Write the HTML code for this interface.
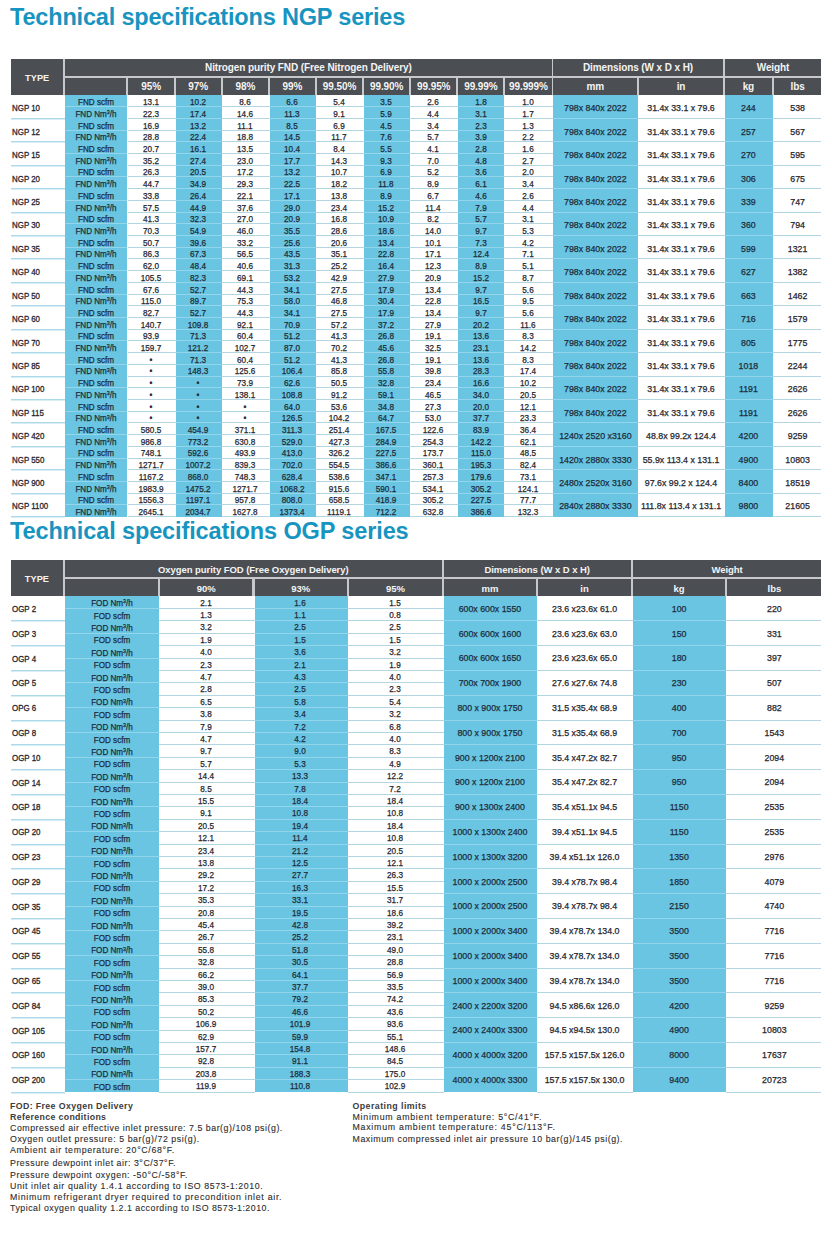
<!DOCTYPE html>
<html><head><meta charset="utf-8"><title>Technical specifications</title><style>
html,body{margin:0;padding:0;background:#fff;}
body{width:832px;height:1241px;position:relative;overflow:hidden;font-family:"Liberation Sans",sans-serif;}
.b{position:absolute;}
.t,.h,.d,.ty,.title,.note{position:absolute;white-space:nowrap;}
.h{color:#f4f4f4;font-weight:bold;font-size:10px;line-height:10px;letter-spacing:-0.1px;}
.d{color:#26262e;font-size:8.8px;line-height:10px;-webkit-text-stroke:0.25px #26262e;}
.ty{color:#26262e;font-size:8.8px;line-height:10px;transform-origin:0 50%;-webkit-text-stroke:0.3px #26262e;}
.d sup{font-size:5.8px;vertical-align:0;position:relative;top:-2.8px;}
.title{color:#1794bf;font-weight:bold;font-size:23.5px;line-height:0;}
.note{color:#2b2b2b;font-size:8.8px;line-height:0;-webkit-text-stroke:0.1px #2b2b2b;}
.nb{font-weight:bold;-webkit-text-stroke:0;color:#3c3c3c;}
.bl{color:#1d2d3c;-webkit-text-stroke-color:#1d2d3c;}
</style></head>
<body>
<div class="title" style="left:10px;top:16.8px;letter-spacing:-0.18px;">Technical specifications NGP series</div>
<div class="b" style="left:11px;top:59px;width:810px;height:36px;background:#c6c8cb;"></div>
<div class="b" style="left:11px;top:59px;width:52px;height:36px;background:#4b4e53;"></div>
<div class="h" style="left:37.15px;top:77.50px;transform:translate(-50%,-50%);font-size:9.2px;letter-spacing:0.1px">TYPE</div>
<div class="b" style="left:65px;top:59px;width:487px;height:17px;background:#4b4e53;"></div>
<div class="h" style="left:308.40px;top:68.00px;transform:translate(-50%,-50%);">Nitrogen purity FND (Free Nitrogen Delivery)</div>
<div class="b" style="left:553px;top:59px;width:170px;height:17px;background:#4b4e53;"></div>
<div class="h" style="left:638.00px;top:68.00px;transform:translate(-50%,-50%);">Dimensions (W x D x H)</div>
<div class="b" style="left:725px;top:59px;width:96px;height:17px;background:#4b4e53;"></div>
<div class="h" style="left:773.00px;top:68.00px;transform:translate(-50%,-50%);">Weight</div>
<div class="b" style="left:65px;top:78px;width:61px;height:17px;background:#4b4e53;"></div>
<div class="b" style="left:128px;top:78px;width:46px;height:17px;background:#4b4e53;"></div>
<div class="h" style="left:151.10px;top:87.00px;transform:translate(-50%,-50%);">95%</div>
<div class="b" style="left:176px;top:78px;width:45px;height:17px;background:#4b4e53;"></div>
<div class="h" style="left:198.21px;top:87.00px;transform:translate(-50%,-50%);">97%</div>
<div class="b" style="left:223px;top:78px;width:45px;height:17px;background:#4b4e53;"></div>
<div class="h" style="left:245.32px;top:87.00px;transform:translate(-50%,-50%);">98%</div>
<div class="b" style="left:270px;top:78px;width:45px;height:17px;background:#4b4e53;"></div>
<div class="h" style="left:292.43px;top:87.00px;transform:translate(-50%,-50%);">99%</div>
<div class="b" style="left:317px;top:78px;width:45px;height:17px;background:#4b4e53;"></div>
<div class="h" style="left:339.54px;top:87.00px;transform:translate(-50%,-50%);">99.50%</div>
<div class="b" style="left:364px;top:78px;width:45px;height:17px;background:#4b4e53;"></div>
<div class="h" style="left:386.65px;top:87.00px;transform:translate(-50%,-50%);">99.90%</div>
<div class="b" style="left:411px;top:78px;width:45px;height:17px;background:#4b4e53;"></div>
<div class="h" style="left:433.76px;top:87.00px;transform:translate(-50%,-50%);">99.95%</div>
<div class="b" style="left:458px;top:78px;width:45px;height:17px;background:#4b4e53;"></div>
<div class="h" style="left:480.87px;top:87.00px;transform:translate(-50%,-50%);">99.99%</div>
<div class="b" style="left:505px;top:78px;width:47px;height:17px;background:#4b4e53;"></div>
<div class="h" style="left:528.44px;top:87.00px;transform:translate(-50%,-50%);">99.999%</div>
<div class="b" style="left:553px;top:78px;width:84px;height:17px;background:#4b4e53;"></div>
<div class="h" style="left:595.35px;top:87.00px;transform:translate(-50%,-50%);">mm</div>
<div class="b" style="left:639px;top:78px;width:84px;height:17px;background:#4b4e53;"></div>
<div class="h" style="left:681.00px;top:87.00px;transform:translate(-50%,-50%);">in</div>
<div class="b" style="left:725px;top:78px;width:47px;height:17px;background:#4b4e53;"></div>
<div class="h" style="left:748.40px;top:87.00px;transform:translate(-50%,-50%);">kg</div>
<div class="b" style="left:774px;top:78px;width:47px;height:17px;background:#4b4e53;"></div>
<div class="h" style="left:797.60px;top:87.00px;transform:translate(-50%,-50%);">lbs</div>
<div class="b" style="left:65px;top:95px;width:62px;height:422px;background:#69c5e1;"></div>
<div class="b" style="left:176px;top:95px;width:46px;height:422px;background:#69c5e1;"></div>
<div class="b" style="left:270px;top:95px;width:46px;height:422px;background:#69c5e1;"></div>
<div class="b" style="left:364px;top:95px;width:46px;height:422px;background:#69c5e1;"></div>
<div class="b" style="left:458px;top:95px;width:46px;height:422px;background:#69c5e1;"></div>
<div class="b" style="left:553px;top:95px;width:85px;height:422px;background:#69c5e1;"></div>
<div class="b" style="left:725px;top:95px;width:48px;height:422px;background:#69c5e1;"></div>
<div class="b" style="left:65px;top:106px;width:62px;height:1px;background:#93d5eb;"></div>
<div class="b" style="left:128px;top:106px;width:48px;height:1px;background:#b3d6e2;"></div>
<div class="b" style="left:176px;top:106px;width:46px;height:1px;background:#93d5eb;"></div>
<div class="b" style="left:222px;top:106px;width:48px;height:1px;background:#b3d6e2;"></div>
<div class="b" style="left:270px;top:106px;width:46px;height:1px;background:#93d5eb;"></div>
<div class="b" style="left:316px;top:106px;width:48px;height:1px;background:#b3d6e2;"></div>
<div class="b" style="left:364px;top:106px;width:46px;height:1px;background:#93d5eb;"></div>
<div class="b" style="left:410px;top:106px;width:48px;height:1px;background:#b3d6e2;"></div>
<div class="b" style="left:458px;top:106px;width:46px;height:1px;background:#93d5eb;"></div>
<div class="b" style="left:504px;top:106px;width:49px;height:1px;background:#b3d6e2;"></div>
<div class="b" style="left:11px;top:118px;width:54px;height:1px;background:#addaea;"></div>
<div class="b" style="left:11px;top:119px;width:54px;height:1px;background:#d9edf5;"></div>
<div class="b" style="left:128px;top:118px;width:48px;height:1px;background:#b3d6e2;"></div>
<div class="b" style="left:176px;top:118px;width:46px;height:1px;background:#93d5eb;"></div>
<div class="b" style="left:222px;top:118px;width:48px;height:1px;background:#b3d6e2;"></div>
<div class="b" style="left:270px;top:118px;width:46px;height:1px;background:#93d5eb;"></div>
<div class="b" style="left:316px;top:118px;width:48px;height:1px;background:#b3d6e2;"></div>
<div class="b" style="left:364px;top:118px;width:46px;height:1px;background:#93d5eb;"></div>
<div class="b" style="left:410px;top:118px;width:48px;height:1px;background:#b3d6e2;"></div>
<div class="b" style="left:458px;top:118px;width:46px;height:1px;background:#93d5eb;"></div>
<div class="b" style="left:504px;top:118px;width:49px;height:1px;background:#b3d6e2;"></div>
<div class="b" style="left:553px;top:118px;width:85px;height:1px;background:#93d5eb;"></div>
<div class="b" style="left:638px;top:118px;width:87px;height:1px;background:#b3d6e2;"></div>
<div class="b" style="left:725px;top:118px;width:48px;height:1px;background:#93d5eb;"></div>
<div class="b" style="left:773px;top:118px;width:48px;height:1px;background:#b3d6e2;"></div>
<div class="b" style="left:65px;top:130px;width:62px;height:1px;background:#93d5eb;"></div>
<div class="b" style="left:128px;top:130px;width:48px;height:1px;background:#b3d6e2;"></div>
<div class="b" style="left:176px;top:130px;width:46px;height:1px;background:#93d5eb;"></div>
<div class="b" style="left:222px;top:130px;width:48px;height:1px;background:#b3d6e2;"></div>
<div class="b" style="left:270px;top:130px;width:46px;height:1px;background:#93d5eb;"></div>
<div class="b" style="left:316px;top:130px;width:48px;height:1px;background:#b3d6e2;"></div>
<div class="b" style="left:364px;top:130px;width:46px;height:1px;background:#93d5eb;"></div>
<div class="b" style="left:410px;top:130px;width:48px;height:1px;background:#b3d6e2;"></div>
<div class="b" style="left:458px;top:130px;width:46px;height:1px;background:#93d5eb;"></div>
<div class="b" style="left:504px;top:130px;width:49px;height:1px;background:#b3d6e2;"></div>
<div class="b" style="left:11px;top:141px;width:54px;height:1px;background:#addaea;"></div>
<div class="b" style="left:11px;top:142px;width:54px;height:1px;background:#d9edf5;"></div>
<div class="b" style="left:128px;top:141px;width:48px;height:1px;background:#b3d6e2;"></div>
<div class="b" style="left:176px;top:141px;width:46px;height:1px;background:#93d5eb;"></div>
<div class="b" style="left:222px;top:141px;width:48px;height:1px;background:#b3d6e2;"></div>
<div class="b" style="left:270px;top:141px;width:46px;height:1px;background:#93d5eb;"></div>
<div class="b" style="left:316px;top:141px;width:48px;height:1px;background:#b3d6e2;"></div>
<div class="b" style="left:364px;top:141px;width:46px;height:1px;background:#93d5eb;"></div>
<div class="b" style="left:410px;top:141px;width:48px;height:1px;background:#b3d6e2;"></div>
<div class="b" style="left:458px;top:141px;width:46px;height:1px;background:#93d5eb;"></div>
<div class="b" style="left:504px;top:141px;width:49px;height:1px;background:#b3d6e2;"></div>
<div class="b" style="left:553px;top:141px;width:85px;height:1px;background:#93d5eb;"></div>
<div class="b" style="left:638px;top:141px;width:87px;height:1px;background:#b3d6e2;"></div>
<div class="b" style="left:725px;top:141px;width:48px;height:1px;background:#93d5eb;"></div>
<div class="b" style="left:773px;top:141px;width:48px;height:1px;background:#b3d6e2;"></div>
<div class="b" style="left:65px;top:153px;width:62px;height:1px;background:#93d5eb;"></div>
<div class="b" style="left:128px;top:153px;width:48px;height:1px;background:#b3d6e2;"></div>
<div class="b" style="left:176px;top:153px;width:46px;height:1px;background:#93d5eb;"></div>
<div class="b" style="left:222px;top:153px;width:48px;height:1px;background:#b3d6e2;"></div>
<div class="b" style="left:270px;top:153px;width:46px;height:1px;background:#93d5eb;"></div>
<div class="b" style="left:316px;top:153px;width:48px;height:1px;background:#b3d6e2;"></div>
<div class="b" style="left:364px;top:153px;width:46px;height:1px;background:#93d5eb;"></div>
<div class="b" style="left:410px;top:153px;width:48px;height:1px;background:#b3d6e2;"></div>
<div class="b" style="left:458px;top:153px;width:46px;height:1px;background:#93d5eb;"></div>
<div class="b" style="left:504px;top:153px;width:49px;height:1px;background:#b3d6e2;"></div>
<div class="b" style="left:11px;top:165px;width:54px;height:1px;background:#addaea;"></div>
<div class="b" style="left:11px;top:166px;width:54px;height:1px;background:#d9edf5;"></div>
<div class="b" style="left:128px;top:165px;width:48px;height:1px;background:#b3d6e2;"></div>
<div class="b" style="left:176px;top:165px;width:46px;height:1px;background:#93d5eb;"></div>
<div class="b" style="left:222px;top:165px;width:48px;height:1px;background:#b3d6e2;"></div>
<div class="b" style="left:270px;top:165px;width:46px;height:1px;background:#93d5eb;"></div>
<div class="b" style="left:316px;top:165px;width:48px;height:1px;background:#b3d6e2;"></div>
<div class="b" style="left:364px;top:165px;width:46px;height:1px;background:#93d5eb;"></div>
<div class="b" style="left:410px;top:165px;width:48px;height:1px;background:#b3d6e2;"></div>
<div class="b" style="left:458px;top:165px;width:46px;height:1px;background:#93d5eb;"></div>
<div class="b" style="left:504px;top:165px;width:49px;height:1px;background:#b3d6e2;"></div>
<div class="b" style="left:553px;top:165px;width:85px;height:1px;background:#93d5eb;"></div>
<div class="b" style="left:638px;top:165px;width:87px;height:1px;background:#b3d6e2;"></div>
<div class="b" style="left:725px;top:165px;width:48px;height:1px;background:#93d5eb;"></div>
<div class="b" style="left:773px;top:165px;width:48px;height:1px;background:#b3d6e2;"></div>
<div class="b" style="left:65px;top:176px;width:62px;height:1px;background:#93d5eb;"></div>
<div class="b" style="left:128px;top:176px;width:48px;height:1px;background:#b3d6e2;"></div>
<div class="b" style="left:176px;top:176px;width:46px;height:1px;background:#93d5eb;"></div>
<div class="b" style="left:222px;top:176px;width:48px;height:1px;background:#b3d6e2;"></div>
<div class="b" style="left:270px;top:176px;width:46px;height:1px;background:#93d5eb;"></div>
<div class="b" style="left:316px;top:176px;width:48px;height:1px;background:#b3d6e2;"></div>
<div class="b" style="left:364px;top:176px;width:46px;height:1px;background:#93d5eb;"></div>
<div class="b" style="left:410px;top:176px;width:48px;height:1px;background:#b3d6e2;"></div>
<div class="b" style="left:458px;top:176px;width:46px;height:1px;background:#93d5eb;"></div>
<div class="b" style="left:504px;top:176px;width:49px;height:1px;background:#b3d6e2;"></div>
<div class="b" style="left:11px;top:188px;width:54px;height:1px;background:#addaea;"></div>
<div class="b" style="left:11px;top:189px;width:54px;height:1px;background:#d9edf5;"></div>
<div class="b" style="left:128px;top:188px;width:48px;height:1px;background:#b3d6e2;"></div>
<div class="b" style="left:176px;top:188px;width:46px;height:1px;background:#93d5eb;"></div>
<div class="b" style="left:222px;top:188px;width:48px;height:1px;background:#b3d6e2;"></div>
<div class="b" style="left:270px;top:188px;width:46px;height:1px;background:#93d5eb;"></div>
<div class="b" style="left:316px;top:188px;width:48px;height:1px;background:#b3d6e2;"></div>
<div class="b" style="left:364px;top:188px;width:46px;height:1px;background:#93d5eb;"></div>
<div class="b" style="left:410px;top:188px;width:48px;height:1px;background:#b3d6e2;"></div>
<div class="b" style="left:458px;top:188px;width:46px;height:1px;background:#93d5eb;"></div>
<div class="b" style="left:504px;top:188px;width:49px;height:1px;background:#b3d6e2;"></div>
<div class="b" style="left:553px;top:188px;width:85px;height:1px;background:#93d5eb;"></div>
<div class="b" style="left:638px;top:188px;width:87px;height:1px;background:#b3d6e2;"></div>
<div class="b" style="left:725px;top:188px;width:48px;height:1px;background:#93d5eb;"></div>
<div class="b" style="left:773px;top:188px;width:48px;height:1px;background:#b3d6e2;"></div>
<div class="b" style="left:65px;top:200px;width:62px;height:1px;background:#93d5eb;"></div>
<div class="b" style="left:128px;top:200px;width:48px;height:1px;background:#b3d6e2;"></div>
<div class="b" style="left:176px;top:200px;width:46px;height:1px;background:#93d5eb;"></div>
<div class="b" style="left:222px;top:200px;width:48px;height:1px;background:#b3d6e2;"></div>
<div class="b" style="left:270px;top:200px;width:46px;height:1px;background:#93d5eb;"></div>
<div class="b" style="left:316px;top:200px;width:48px;height:1px;background:#b3d6e2;"></div>
<div class="b" style="left:364px;top:200px;width:46px;height:1px;background:#93d5eb;"></div>
<div class="b" style="left:410px;top:200px;width:48px;height:1px;background:#b3d6e2;"></div>
<div class="b" style="left:458px;top:200px;width:46px;height:1px;background:#93d5eb;"></div>
<div class="b" style="left:504px;top:200px;width:49px;height:1px;background:#b3d6e2;"></div>
<div class="b" style="left:11px;top:212px;width:54px;height:1px;background:#addaea;"></div>
<div class="b" style="left:11px;top:213px;width:54px;height:1px;background:#d9edf5;"></div>
<div class="b" style="left:128px;top:212px;width:48px;height:1px;background:#b3d6e2;"></div>
<div class="b" style="left:176px;top:212px;width:46px;height:1px;background:#93d5eb;"></div>
<div class="b" style="left:222px;top:212px;width:48px;height:1px;background:#b3d6e2;"></div>
<div class="b" style="left:270px;top:212px;width:46px;height:1px;background:#93d5eb;"></div>
<div class="b" style="left:316px;top:212px;width:48px;height:1px;background:#b3d6e2;"></div>
<div class="b" style="left:364px;top:212px;width:46px;height:1px;background:#93d5eb;"></div>
<div class="b" style="left:410px;top:212px;width:48px;height:1px;background:#b3d6e2;"></div>
<div class="b" style="left:458px;top:212px;width:46px;height:1px;background:#93d5eb;"></div>
<div class="b" style="left:504px;top:212px;width:49px;height:1px;background:#b3d6e2;"></div>
<div class="b" style="left:553px;top:212px;width:85px;height:1px;background:#93d5eb;"></div>
<div class="b" style="left:638px;top:212px;width:87px;height:1px;background:#b3d6e2;"></div>
<div class="b" style="left:725px;top:212px;width:48px;height:1px;background:#93d5eb;"></div>
<div class="b" style="left:773px;top:212px;width:48px;height:1px;background:#b3d6e2;"></div>
<div class="b" style="left:65px;top:223px;width:62px;height:1px;background:#93d5eb;"></div>
<div class="b" style="left:128px;top:223px;width:48px;height:1px;background:#b3d6e2;"></div>
<div class="b" style="left:176px;top:223px;width:46px;height:1px;background:#93d5eb;"></div>
<div class="b" style="left:222px;top:223px;width:48px;height:1px;background:#b3d6e2;"></div>
<div class="b" style="left:270px;top:223px;width:46px;height:1px;background:#93d5eb;"></div>
<div class="b" style="left:316px;top:223px;width:48px;height:1px;background:#b3d6e2;"></div>
<div class="b" style="left:364px;top:223px;width:46px;height:1px;background:#93d5eb;"></div>
<div class="b" style="left:410px;top:223px;width:48px;height:1px;background:#b3d6e2;"></div>
<div class="b" style="left:458px;top:223px;width:46px;height:1px;background:#93d5eb;"></div>
<div class="b" style="left:504px;top:223px;width:49px;height:1px;background:#b3d6e2;"></div>
<div class="b" style="left:11px;top:235px;width:54px;height:1px;background:#addaea;"></div>
<div class="b" style="left:11px;top:236px;width:54px;height:1px;background:#d9edf5;"></div>
<div class="b" style="left:128px;top:235px;width:48px;height:1px;background:#b3d6e2;"></div>
<div class="b" style="left:176px;top:235px;width:46px;height:1px;background:#93d5eb;"></div>
<div class="b" style="left:222px;top:235px;width:48px;height:1px;background:#b3d6e2;"></div>
<div class="b" style="left:270px;top:235px;width:46px;height:1px;background:#93d5eb;"></div>
<div class="b" style="left:316px;top:235px;width:48px;height:1px;background:#b3d6e2;"></div>
<div class="b" style="left:364px;top:235px;width:46px;height:1px;background:#93d5eb;"></div>
<div class="b" style="left:410px;top:235px;width:48px;height:1px;background:#b3d6e2;"></div>
<div class="b" style="left:458px;top:235px;width:46px;height:1px;background:#93d5eb;"></div>
<div class="b" style="left:504px;top:235px;width:49px;height:1px;background:#b3d6e2;"></div>
<div class="b" style="left:553px;top:235px;width:85px;height:1px;background:#93d5eb;"></div>
<div class="b" style="left:638px;top:235px;width:87px;height:1px;background:#b3d6e2;"></div>
<div class="b" style="left:725px;top:235px;width:48px;height:1px;background:#93d5eb;"></div>
<div class="b" style="left:773px;top:235px;width:48px;height:1px;background:#b3d6e2;"></div>
<div class="b" style="left:65px;top:247px;width:62px;height:1px;background:#93d5eb;"></div>
<div class="b" style="left:128px;top:247px;width:48px;height:1px;background:#b3d6e2;"></div>
<div class="b" style="left:176px;top:247px;width:46px;height:1px;background:#93d5eb;"></div>
<div class="b" style="left:222px;top:247px;width:48px;height:1px;background:#b3d6e2;"></div>
<div class="b" style="left:270px;top:247px;width:46px;height:1px;background:#93d5eb;"></div>
<div class="b" style="left:316px;top:247px;width:48px;height:1px;background:#b3d6e2;"></div>
<div class="b" style="left:364px;top:247px;width:46px;height:1px;background:#93d5eb;"></div>
<div class="b" style="left:410px;top:247px;width:48px;height:1px;background:#b3d6e2;"></div>
<div class="b" style="left:458px;top:247px;width:46px;height:1px;background:#93d5eb;"></div>
<div class="b" style="left:504px;top:247px;width:49px;height:1px;background:#b3d6e2;"></div>
<div class="b" style="left:11px;top:258px;width:54px;height:1px;background:#addaea;"></div>
<div class="b" style="left:11px;top:259px;width:54px;height:1px;background:#d9edf5;"></div>
<div class="b" style="left:128px;top:258px;width:48px;height:1px;background:#b3d6e2;"></div>
<div class="b" style="left:176px;top:258px;width:46px;height:1px;background:#93d5eb;"></div>
<div class="b" style="left:222px;top:258px;width:48px;height:1px;background:#b3d6e2;"></div>
<div class="b" style="left:270px;top:258px;width:46px;height:1px;background:#93d5eb;"></div>
<div class="b" style="left:316px;top:258px;width:48px;height:1px;background:#b3d6e2;"></div>
<div class="b" style="left:364px;top:258px;width:46px;height:1px;background:#93d5eb;"></div>
<div class="b" style="left:410px;top:258px;width:48px;height:1px;background:#b3d6e2;"></div>
<div class="b" style="left:458px;top:258px;width:46px;height:1px;background:#93d5eb;"></div>
<div class="b" style="left:504px;top:258px;width:49px;height:1px;background:#b3d6e2;"></div>
<div class="b" style="left:553px;top:258px;width:85px;height:1px;background:#93d5eb;"></div>
<div class="b" style="left:638px;top:258px;width:87px;height:1px;background:#b3d6e2;"></div>
<div class="b" style="left:725px;top:258px;width:48px;height:1px;background:#93d5eb;"></div>
<div class="b" style="left:773px;top:258px;width:48px;height:1px;background:#b3d6e2;"></div>
<div class="b" style="left:65px;top:270px;width:62px;height:1px;background:#93d5eb;"></div>
<div class="b" style="left:128px;top:270px;width:48px;height:1px;background:#b3d6e2;"></div>
<div class="b" style="left:176px;top:270px;width:46px;height:1px;background:#93d5eb;"></div>
<div class="b" style="left:222px;top:270px;width:48px;height:1px;background:#b3d6e2;"></div>
<div class="b" style="left:270px;top:270px;width:46px;height:1px;background:#93d5eb;"></div>
<div class="b" style="left:316px;top:270px;width:48px;height:1px;background:#b3d6e2;"></div>
<div class="b" style="left:364px;top:270px;width:46px;height:1px;background:#93d5eb;"></div>
<div class="b" style="left:410px;top:270px;width:48px;height:1px;background:#b3d6e2;"></div>
<div class="b" style="left:458px;top:270px;width:46px;height:1px;background:#93d5eb;"></div>
<div class="b" style="left:504px;top:270px;width:49px;height:1px;background:#b3d6e2;"></div>
<div class="b" style="left:11px;top:282px;width:54px;height:1px;background:#addaea;"></div>
<div class="b" style="left:11px;top:283px;width:54px;height:1px;background:#d9edf5;"></div>
<div class="b" style="left:128px;top:282px;width:48px;height:1px;background:#b3d6e2;"></div>
<div class="b" style="left:176px;top:282px;width:46px;height:1px;background:#93d5eb;"></div>
<div class="b" style="left:222px;top:282px;width:48px;height:1px;background:#b3d6e2;"></div>
<div class="b" style="left:270px;top:282px;width:46px;height:1px;background:#93d5eb;"></div>
<div class="b" style="left:316px;top:282px;width:48px;height:1px;background:#b3d6e2;"></div>
<div class="b" style="left:364px;top:282px;width:46px;height:1px;background:#93d5eb;"></div>
<div class="b" style="left:410px;top:282px;width:48px;height:1px;background:#b3d6e2;"></div>
<div class="b" style="left:458px;top:282px;width:46px;height:1px;background:#93d5eb;"></div>
<div class="b" style="left:504px;top:282px;width:49px;height:1px;background:#b3d6e2;"></div>
<div class="b" style="left:553px;top:282px;width:85px;height:1px;background:#93d5eb;"></div>
<div class="b" style="left:638px;top:282px;width:87px;height:1px;background:#b3d6e2;"></div>
<div class="b" style="left:725px;top:282px;width:48px;height:1px;background:#93d5eb;"></div>
<div class="b" style="left:773px;top:282px;width:48px;height:1px;background:#b3d6e2;"></div>
<div class="b" style="left:65px;top:294px;width:62px;height:1px;background:#93d5eb;"></div>
<div class="b" style="left:128px;top:294px;width:48px;height:1px;background:#b3d6e2;"></div>
<div class="b" style="left:176px;top:294px;width:46px;height:1px;background:#93d5eb;"></div>
<div class="b" style="left:222px;top:294px;width:48px;height:1px;background:#b3d6e2;"></div>
<div class="b" style="left:270px;top:294px;width:46px;height:1px;background:#93d5eb;"></div>
<div class="b" style="left:316px;top:294px;width:48px;height:1px;background:#b3d6e2;"></div>
<div class="b" style="left:364px;top:294px;width:46px;height:1px;background:#93d5eb;"></div>
<div class="b" style="left:410px;top:294px;width:48px;height:1px;background:#b3d6e2;"></div>
<div class="b" style="left:458px;top:294px;width:46px;height:1px;background:#93d5eb;"></div>
<div class="b" style="left:504px;top:294px;width:49px;height:1px;background:#b3d6e2;"></div>
<div class="b" style="left:11px;top:305px;width:54px;height:1px;background:#addaea;"></div>
<div class="b" style="left:11px;top:306px;width:54px;height:1px;background:#d9edf5;"></div>
<div class="b" style="left:128px;top:305px;width:48px;height:1px;background:#b3d6e2;"></div>
<div class="b" style="left:176px;top:305px;width:46px;height:1px;background:#93d5eb;"></div>
<div class="b" style="left:222px;top:305px;width:48px;height:1px;background:#b3d6e2;"></div>
<div class="b" style="left:270px;top:305px;width:46px;height:1px;background:#93d5eb;"></div>
<div class="b" style="left:316px;top:305px;width:48px;height:1px;background:#b3d6e2;"></div>
<div class="b" style="left:364px;top:305px;width:46px;height:1px;background:#93d5eb;"></div>
<div class="b" style="left:410px;top:305px;width:48px;height:1px;background:#b3d6e2;"></div>
<div class="b" style="left:458px;top:305px;width:46px;height:1px;background:#93d5eb;"></div>
<div class="b" style="left:504px;top:305px;width:49px;height:1px;background:#b3d6e2;"></div>
<div class="b" style="left:553px;top:305px;width:85px;height:1px;background:#93d5eb;"></div>
<div class="b" style="left:638px;top:305px;width:87px;height:1px;background:#b3d6e2;"></div>
<div class="b" style="left:725px;top:305px;width:48px;height:1px;background:#93d5eb;"></div>
<div class="b" style="left:773px;top:305px;width:48px;height:1px;background:#b3d6e2;"></div>
<div class="b" style="left:65px;top:317px;width:62px;height:1px;background:#93d5eb;"></div>
<div class="b" style="left:128px;top:317px;width:48px;height:1px;background:#b3d6e2;"></div>
<div class="b" style="left:176px;top:317px;width:46px;height:1px;background:#93d5eb;"></div>
<div class="b" style="left:222px;top:317px;width:48px;height:1px;background:#b3d6e2;"></div>
<div class="b" style="left:270px;top:317px;width:46px;height:1px;background:#93d5eb;"></div>
<div class="b" style="left:316px;top:317px;width:48px;height:1px;background:#b3d6e2;"></div>
<div class="b" style="left:364px;top:317px;width:46px;height:1px;background:#93d5eb;"></div>
<div class="b" style="left:410px;top:317px;width:48px;height:1px;background:#b3d6e2;"></div>
<div class="b" style="left:458px;top:317px;width:46px;height:1px;background:#93d5eb;"></div>
<div class="b" style="left:504px;top:317px;width:49px;height:1px;background:#b3d6e2;"></div>
<div class="b" style="left:11px;top:329px;width:54px;height:1px;background:#addaea;"></div>
<div class="b" style="left:11px;top:330px;width:54px;height:1px;background:#d9edf5;"></div>
<div class="b" style="left:128px;top:329px;width:48px;height:1px;background:#b3d6e2;"></div>
<div class="b" style="left:176px;top:329px;width:46px;height:1px;background:#93d5eb;"></div>
<div class="b" style="left:222px;top:329px;width:48px;height:1px;background:#b3d6e2;"></div>
<div class="b" style="left:270px;top:329px;width:46px;height:1px;background:#93d5eb;"></div>
<div class="b" style="left:316px;top:329px;width:48px;height:1px;background:#b3d6e2;"></div>
<div class="b" style="left:364px;top:329px;width:46px;height:1px;background:#93d5eb;"></div>
<div class="b" style="left:410px;top:329px;width:48px;height:1px;background:#b3d6e2;"></div>
<div class="b" style="left:458px;top:329px;width:46px;height:1px;background:#93d5eb;"></div>
<div class="b" style="left:504px;top:329px;width:49px;height:1px;background:#b3d6e2;"></div>
<div class="b" style="left:553px;top:329px;width:85px;height:1px;background:#93d5eb;"></div>
<div class="b" style="left:638px;top:329px;width:87px;height:1px;background:#b3d6e2;"></div>
<div class="b" style="left:725px;top:329px;width:48px;height:1px;background:#93d5eb;"></div>
<div class="b" style="left:773px;top:329px;width:48px;height:1px;background:#b3d6e2;"></div>
<div class="b" style="left:65px;top:340px;width:62px;height:1px;background:#93d5eb;"></div>
<div class="b" style="left:128px;top:340px;width:48px;height:1px;background:#b3d6e2;"></div>
<div class="b" style="left:176px;top:340px;width:46px;height:1px;background:#93d5eb;"></div>
<div class="b" style="left:222px;top:340px;width:48px;height:1px;background:#b3d6e2;"></div>
<div class="b" style="left:270px;top:340px;width:46px;height:1px;background:#93d5eb;"></div>
<div class="b" style="left:316px;top:340px;width:48px;height:1px;background:#b3d6e2;"></div>
<div class="b" style="left:364px;top:340px;width:46px;height:1px;background:#93d5eb;"></div>
<div class="b" style="left:410px;top:340px;width:48px;height:1px;background:#b3d6e2;"></div>
<div class="b" style="left:458px;top:340px;width:46px;height:1px;background:#93d5eb;"></div>
<div class="b" style="left:504px;top:340px;width:49px;height:1px;background:#b3d6e2;"></div>
<div class="b" style="left:11px;top:352px;width:54px;height:1px;background:#addaea;"></div>
<div class="b" style="left:11px;top:353px;width:54px;height:1px;background:#d9edf5;"></div>
<div class="b" style="left:128px;top:352px;width:48px;height:1px;background:#b3d6e2;"></div>
<div class="b" style="left:176px;top:352px;width:46px;height:1px;background:#93d5eb;"></div>
<div class="b" style="left:222px;top:352px;width:48px;height:1px;background:#b3d6e2;"></div>
<div class="b" style="left:270px;top:352px;width:46px;height:1px;background:#93d5eb;"></div>
<div class="b" style="left:316px;top:352px;width:48px;height:1px;background:#b3d6e2;"></div>
<div class="b" style="left:364px;top:352px;width:46px;height:1px;background:#93d5eb;"></div>
<div class="b" style="left:410px;top:352px;width:48px;height:1px;background:#b3d6e2;"></div>
<div class="b" style="left:458px;top:352px;width:46px;height:1px;background:#93d5eb;"></div>
<div class="b" style="left:504px;top:352px;width:49px;height:1px;background:#b3d6e2;"></div>
<div class="b" style="left:553px;top:352px;width:85px;height:1px;background:#93d5eb;"></div>
<div class="b" style="left:638px;top:352px;width:87px;height:1px;background:#b3d6e2;"></div>
<div class="b" style="left:725px;top:352px;width:48px;height:1px;background:#93d5eb;"></div>
<div class="b" style="left:773px;top:352px;width:48px;height:1px;background:#b3d6e2;"></div>
<div class="b" style="left:65px;top:364px;width:62px;height:1px;background:#93d5eb;"></div>
<div class="b" style="left:128px;top:364px;width:48px;height:1px;background:#b3d6e2;"></div>
<div class="b" style="left:176px;top:364px;width:46px;height:1px;background:#93d5eb;"></div>
<div class="b" style="left:222px;top:364px;width:48px;height:1px;background:#b3d6e2;"></div>
<div class="b" style="left:270px;top:364px;width:46px;height:1px;background:#93d5eb;"></div>
<div class="b" style="left:316px;top:364px;width:48px;height:1px;background:#b3d6e2;"></div>
<div class="b" style="left:364px;top:364px;width:46px;height:1px;background:#93d5eb;"></div>
<div class="b" style="left:410px;top:364px;width:48px;height:1px;background:#b3d6e2;"></div>
<div class="b" style="left:458px;top:364px;width:46px;height:1px;background:#93d5eb;"></div>
<div class="b" style="left:504px;top:364px;width:49px;height:1px;background:#b3d6e2;"></div>
<div class="b" style="left:11px;top:376px;width:54px;height:1px;background:#addaea;"></div>
<div class="b" style="left:11px;top:377px;width:54px;height:1px;background:#d9edf5;"></div>
<div class="b" style="left:128px;top:376px;width:48px;height:1px;background:#b3d6e2;"></div>
<div class="b" style="left:176px;top:376px;width:46px;height:1px;background:#93d5eb;"></div>
<div class="b" style="left:222px;top:376px;width:48px;height:1px;background:#b3d6e2;"></div>
<div class="b" style="left:270px;top:376px;width:46px;height:1px;background:#93d5eb;"></div>
<div class="b" style="left:316px;top:376px;width:48px;height:1px;background:#b3d6e2;"></div>
<div class="b" style="left:364px;top:376px;width:46px;height:1px;background:#93d5eb;"></div>
<div class="b" style="left:410px;top:376px;width:48px;height:1px;background:#b3d6e2;"></div>
<div class="b" style="left:458px;top:376px;width:46px;height:1px;background:#93d5eb;"></div>
<div class="b" style="left:504px;top:376px;width:49px;height:1px;background:#b3d6e2;"></div>
<div class="b" style="left:553px;top:376px;width:85px;height:1px;background:#93d5eb;"></div>
<div class="b" style="left:638px;top:376px;width:87px;height:1px;background:#b3d6e2;"></div>
<div class="b" style="left:725px;top:376px;width:48px;height:1px;background:#93d5eb;"></div>
<div class="b" style="left:773px;top:376px;width:48px;height:1px;background:#b3d6e2;"></div>
<div class="b" style="left:65px;top:387px;width:62px;height:1px;background:#93d5eb;"></div>
<div class="b" style="left:128px;top:387px;width:48px;height:1px;background:#b3d6e2;"></div>
<div class="b" style="left:176px;top:387px;width:46px;height:1px;background:#93d5eb;"></div>
<div class="b" style="left:222px;top:387px;width:48px;height:1px;background:#b3d6e2;"></div>
<div class="b" style="left:270px;top:387px;width:46px;height:1px;background:#93d5eb;"></div>
<div class="b" style="left:316px;top:387px;width:48px;height:1px;background:#b3d6e2;"></div>
<div class="b" style="left:364px;top:387px;width:46px;height:1px;background:#93d5eb;"></div>
<div class="b" style="left:410px;top:387px;width:48px;height:1px;background:#b3d6e2;"></div>
<div class="b" style="left:458px;top:387px;width:46px;height:1px;background:#93d5eb;"></div>
<div class="b" style="left:504px;top:387px;width:49px;height:1px;background:#b3d6e2;"></div>
<div class="b" style="left:11px;top:399px;width:54px;height:1px;background:#addaea;"></div>
<div class="b" style="left:11px;top:400px;width:54px;height:1px;background:#d9edf5;"></div>
<div class="b" style="left:128px;top:399px;width:48px;height:1px;background:#b3d6e2;"></div>
<div class="b" style="left:176px;top:399px;width:46px;height:1px;background:#93d5eb;"></div>
<div class="b" style="left:222px;top:399px;width:48px;height:1px;background:#b3d6e2;"></div>
<div class="b" style="left:270px;top:399px;width:46px;height:1px;background:#93d5eb;"></div>
<div class="b" style="left:316px;top:399px;width:48px;height:1px;background:#b3d6e2;"></div>
<div class="b" style="left:364px;top:399px;width:46px;height:1px;background:#93d5eb;"></div>
<div class="b" style="left:410px;top:399px;width:48px;height:1px;background:#b3d6e2;"></div>
<div class="b" style="left:458px;top:399px;width:46px;height:1px;background:#93d5eb;"></div>
<div class="b" style="left:504px;top:399px;width:49px;height:1px;background:#b3d6e2;"></div>
<div class="b" style="left:553px;top:399px;width:85px;height:1px;background:#93d5eb;"></div>
<div class="b" style="left:638px;top:399px;width:87px;height:1px;background:#b3d6e2;"></div>
<div class="b" style="left:725px;top:399px;width:48px;height:1px;background:#93d5eb;"></div>
<div class="b" style="left:773px;top:399px;width:48px;height:1px;background:#b3d6e2;"></div>
<div class="b" style="left:65px;top:411px;width:62px;height:1px;background:#93d5eb;"></div>
<div class="b" style="left:128px;top:411px;width:48px;height:1px;background:#b3d6e2;"></div>
<div class="b" style="left:176px;top:411px;width:46px;height:1px;background:#93d5eb;"></div>
<div class="b" style="left:222px;top:411px;width:48px;height:1px;background:#b3d6e2;"></div>
<div class="b" style="left:270px;top:411px;width:46px;height:1px;background:#93d5eb;"></div>
<div class="b" style="left:316px;top:411px;width:48px;height:1px;background:#b3d6e2;"></div>
<div class="b" style="left:364px;top:411px;width:46px;height:1px;background:#93d5eb;"></div>
<div class="b" style="left:410px;top:411px;width:48px;height:1px;background:#b3d6e2;"></div>
<div class="b" style="left:458px;top:411px;width:46px;height:1px;background:#93d5eb;"></div>
<div class="b" style="left:504px;top:411px;width:49px;height:1px;background:#b3d6e2;"></div>
<div class="b" style="left:11px;top:422px;width:54px;height:1px;background:#addaea;"></div>
<div class="b" style="left:11px;top:423px;width:54px;height:1px;background:#d9edf5;"></div>
<div class="b" style="left:128px;top:422px;width:48px;height:1px;background:#b3d6e2;"></div>
<div class="b" style="left:176px;top:422px;width:46px;height:1px;background:#93d5eb;"></div>
<div class="b" style="left:222px;top:422px;width:48px;height:1px;background:#b3d6e2;"></div>
<div class="b" style="left:270px;top:422px;width:46px;height:1px;background:#93d5eb;"></div>
<div class="b" style="left:316px;top:422px;width:48px;height:1px;background:#b3d6e2;"></div>
<div class="b" style="left:364px;top:422px;width:46px;height:1px;background:#93d5eb;"></div>
<div class="b" style="left:410px;top:422px;width:48px;height:1px;background:#b3d6e2;"></div>
<div class="b" style="left:458px;top:422px;width:46px;height:1px;background:#93d5eb;"></div>
<div class="b" style="left:504px;top:422px;width:49px;height:1px;background:#b3d6e2;"></div>
<div class="b" style="left:553px;top:422px;width:85px;height:1px;background:#93d5eb;"></div>
<div class="b" style="left:638px;top:422px;width:87px;height:1px;background:#b3d6e2;"></div>
<div class="b" style="left:725px;top:422px;width:48px;height:1px;background:#93d5eb;"></div>
<div class="b" style="left:773px;top:422px;width:48px;height:1px;background:#b3d6e2;"></div>
<div class="b" style="left:65px;top:434px;width:62px;height:1px;background:#93d5eb;"></div>
<div class="b" style="left:128px;top:434px;width:48px;height:1px;background:#b3d6e2;"></div>
<div class="b" style="left:176px;top:434px;width:46px;height:1px;background:#93d5eb;"></div>
<div class="b" style="left:222px;top:434px;width:48px;height:1px;background:#b3d6e2;"></div>
<div class="b" style="left:270px;top:434px;width:46px;height:1px;background:#93d5eb;"></div>
<div class="b" style="left:316px;top:434px;width:48px;height:1px;background:#b3d6e2;"></div>
<div class="b" style="left:364px;top:434px;width:46px;height:1px;background:#93d5eb;"></div>
<div class="b" style="left:410px;top:434px;width:48px;height:1px;background:#b3d6e2;"></div>
<div class="b" style="left:458px;top:434px;width:46px;height:1px;background:#93d5eb;"></div>
<div class="b" style="left:504px;top:434px;width:49px;height:1px;background:#b3d6e2;"></div>
<div class="b" style="left:11px;top:446px;width:54px;height:1px;background:#addaea;"></div>
<div class="b" style="left:11px;top:447px;width:54px;height:1px;background:#d9edf5;"></div>
<div class="b" style="left:128px;top:446px;width:48px;height:1px;background:#b3d6e2;"></div>
<div class="b" style="left:176px;top:446px;width:46px;height:1px;background:#93d5eb;"></div>
<div class="b" style="left:222px;top:446px;width:48px;height:1px;background:#b3d6e2;"></div>
<div class="b" style="left:270px;top:446px;width:46px;height:1px;background:#93d5eb;"></div>
<div class="b" style="left:316px;top:446px;width:48px;height:1px;background:#b3d6e2;"></div>
<div class="b" style="left:364px;top:446px;width:46px;height:1px;background:#93d5eb;"></div>
<div class="b" style="left:410px;top:446px;width:48px;height:1px;background:#b3d6e2;"></div>
<div class="b" style="left:458px;top:446px;width:46px;height:1px;background:#93d5eb;"></div>
<div class="b" style="left:504px;top:446px;width:49px;height:1px;background:#b3d6e2;"></div>
<div class="b" style="left:553px;top:446px;width:85px;height:1px;background:#93d5eb;"></div>
<div class="b" style="left:638px;top:446px;width:87px;height:1px;background:#b3d6e2;"></div>
<div class="b" style="left:725px;top:446px;width:48px;height:1px;background:#93d5eb;"></div>
<div class="b" style="left:773px;top:446px;width:48px;height:1px;background:#b3d6e2;"></div>
<div class="b" style="left:65px;top:458px;width:62px;height:1px;background:#93d5eb;"></div>
<div class="b" style="left:128px;top:458px;width:48px;height:1px;background:#b3d6e2;"></div>
<div class="b" style="left:176px;top:458px;width:46px;height:1px;background:#93d5eb;"></div>
<div class="b" style="left:222px;top:458px;width:48px;height:1px;background:#b3d6e2;"></div>
<div class="b" style="left:270px;top:458px;width:46px;height:1px;background:#93d5eb;"></div>
<div class="b" style="left:316px;top:458px;width:48px;height:1px;background:#b3d6e2;"></div>
<div class="b" style="left:364px;top:458px;width:46px;height:1px;background:#93d5eb;"></div>
<div class="b" style="left:410px;top:458px;width:48px;height:1px;background:#b3d6e2;"></div>
<div class="b" style="left:458px;top:458px;width:46px;height:1px;background:#93d5eb;"></div>
<div class="b" style="left:504px;top:458px;width:49px;height:1px;background:#b3d6e2;"></div>
<div class="b" style="left:11px;top:469px;width:54px;height:1px;background:#addaea;"></div>
<div class="b" style="left:11px;top:470px;width:54px;height:1px;background:#d9edf5;"></div>
<div class="b" style="left:128px;top:469px;width:48px;height:1px;background:#b3d6e2;"></div>
<div class="b" style="left:176px;top:469px;width:46px;height:1px;background:#93d5eb;"></div>
<div class="b" style="left:222px;top:469px;width:48px;height:1px;background:#b3d6e2;"></div>
<div class="b" style="left:270px;top:469px;width:46px;height:1px;background:#93d5eb;"></div>
<div class="b" style="left:316px;top:469px;width:48px;height:1px;background:#b3d6e2;"></div>
<div class="b" style="left:364px;top:469px;width:46px;height:1px;background:#93d5eb;"></div>
<div class="b" style="left:410px;top:469px;width:48px;height:1px;background:#b3d6e2;"></div>
<div class="b" style="left:458px;top:469px;width:46px;height:1px;background:#93d5eb;"></div>
<div class="b" style="left:504px;top:469px;width:49px;height:1px;background:#b3d6e2;"></div>
<div class="b" style="left:553px;top:469px;width:85px;height:1px;background:#93d5eb;"></div>
<div class="b" style="left:638px;top:469px;width:87px;height:1px;background:#b3d6e2;"></div>
<div class="b" style="left:725px;top:469px;width:48px;height:1px;background:#93d5eb;"></div>
<div class="b" style="left:773px;top:469px;width:48px;height:1px;background:#b3d6e2;"></div>
<div class="b" style="left:65px;top:481px;width:62px;height:1px;background:#93d5eb;"></div>
<div class="b" style="left:128px;top:481px;width:48px;height:1px;background:#b3d6e2;"></div>
<div class="b" style="left:176px;top:481px;width:46px;height:1px;background:#93d5eb;"></div>
<div class="b" style="left:222px;top:481px;width:48px;height:1px;background:#b3d6e2;"></div>
<div class="b" style="left:270px;top:481px;width:46px;height:1px;background:#93d5eb;"></div>
<div class="b" style="left:316px;top:481px;width:48px;height:1px;background:#b3d6e2;"></div>
<div class="b" style="left:364px;top:481px;width:46px;height:1px;background:#93d5eb;"></div>
<div class="b" style="left:410px;top:481px;width:48px;height:1px;background:#b3d6e2;"></div>
<div class="b" style="left:458px;top:481px;width:46px;height:1px;background:#93d5eb;"></div>
<div class="b" style="left:504px;top:481px;width:49px;height:1px;background:#b3d6e2;"></div>
<div class="b" style="left:11px;top:493px;width:54px;height:1px;background:#addaea;"></div>
<div class="b" style="left:11px;top:494px;width:54px;height:1px;background:#d9edf5;"></div>
<div class="b" style="left:128px;top:493px;width:48px;height:1px;background:#b3d6e2;"></div>
<div class="b" style="left:176px;top:493px;width:46px;height:1px;background:#93d5eb;"></div>
<div class="b" style="left:222px;top:493px;width:48px;height:1px;background:#b3d6e2;"></div>
<div class="b" style="left:270px;top:493px;width:46px;height:1px;background:#93d5eb;"></div>
<div class="b" style="left:316px;top:493px;width:48px;height:1px;background:#b3d6e2;"></div>
<div class="b" style="left:364px;top:493px;width:46px;height:1px;background:#93d5eb;"></div>
<div class="b" style="left:410px;top:493px;width:48px;height:1px;background:#b3d6e2;"></div>
<div class="b" style="left:458px;top:493px;width:46px;height:1px;background:#93d5eb;"></div>
<div class="b" style="left:504px;top:493px;width:49px;height:1px;background:#b3d6e2;"></div>
<div class="b" style="left:553px;top:493px;width:85px;height:1px;background:#93d5eb;"></div>
<div class="b" style="left:638px;top:493px;width:87px;height:1px;background:#b3d6e2;"></div>
<div class="b" style="left:725px;top:493px;width:48px;height:1px;background:#93d5eb;"></div>
<div class="b" style="left:773px;top:493px;width:48px;height:1px;background:#b3d6e2;"></div>
<div class="b" style="left:65px;top:504px;width:62px;height:1px;background:#93d5eb;"></div>
<div class="b" style="left:128px;top:504px;width:48px;height:1px;background:#b3d6e2;"></div>
<div class="b" style="left:176px;top:504px;width:46px;height:1px;background:#93d5eb;"></div>
<div class="b" style="left:222px;top:504px;width:48px;height:1px;background:#b3d6e2;"></div>
<div class="b" style="left:270px;top:504px;width:46px;height:1px;background:#93d5eb;"></div>
<div class="b" style="left:316px;top:504px;width:48px;height:1px;background:#b3d6e2;"></div>
<div class="b" style="left:364px;top:504px;width:46px;height:1px;background:#93d5eb;"></div>
<div class="b" style="left:410px;top:504px;width:48px;height:1px;background:#b3d6e2;"></div>
<div class="b" style="left:458px;top:504px;width:46px;height:1px;background:#93d5eb;"></div>
<div class="b" style="left:504px;top:504px;width:49px;height:1px;background:#b3d6e2;"></div>
<div class="b" style="left:11px;top:516px;width:54px;height:1px;background:#addaea;"></div>
<div class="b" style="left:11px;top:517px;width:54px;height:1px;background:#d9edf5;"></div>
<div class="b" style="left:128px;top:516px;width:48px;height:1px;background:#b3d6e2;"></div>
<div class="b" style="left:222px;top:516px;width:48px;height:1px;background:#b3d6e2;"></div>
<div class="b" style="left:316px;top:516px;width:48px;height:1px;background:#b3d6e2;"></div>
<div class="b" style="left:410px;top:516px;width:48px;height:1px;background:#b3d6e2;"></div>
<div class="b" style="left:504px;top:516px;width:49px;height:1px;background:#b3d6e2;"></div>
<div class="b" style="left:638px;top:516px;width:87px;height:1px;background:#b3d6e2;"></div>
<div class="b" style="left:773px;top:516px;width:48px;height:1px;background:#b3d6e2;"></div>
<div class="ty" style="left:12.20px;top:108.31px;transform:translateY(-50%) scaleX(0.9);">NGP 10</div>
<div class="d lb bl" style="left:95.80px;top:102.16px;transform:translate(-50%,-50%) scaleX(0.92);">FND scfm</div>
<div class="d" style="left:150.80px;top:102.16px;transform:translate(-50%,-50%) scaleX(0.93);">13.1</div>
<div class="d bl" style="left:197.91px;top:102.16px;transform:translate(-50%,-50%) scaleX(0.93);">10.2</div>
<div class="d" style="left:245.02px;top:102.16px;transform:translate(-50%,-50%) scaleX(0.93);">8.6</div>
<div class="d bl" style="left:292.13px;top:102.16px;transform:translate(-50%,-50%) scaleX(0.93);">6.6</div>
<div class="d" style="left:339.24px;top:102.16px;transform:translate(-50%,-50%) scaleX(0.93);">5.4</div>
<div class="d bl" style="left:386.35px;top:102.16px;transform:translate(-50%,-50%) scaleX(0.93);">3.5</div>
<div class="d" style="left:433.46px;top:102.16px;transform:translate(-50%,-50%) scaleX(0.93);">2.6</div>
<div class="d bl" style="left:480.57px;top:102.16px;transform:translate(-50%,-50%) scaleX(0.93);">1.8</div>
<div class="d" style="left:528.14px;top:102.16px;transform:translate(-50%,-50%) scaleX(0.93);">1.0</div>
<div class="d lb bl" style="left:95.80px;top:113.87px;transform:translate(-50%,-50%) scaleX(0.92);">FND Nm<sup>3</sup>/h</div>
<div class="d" style="left:150.80px;top:113.87px;transform:translate(-50%,-50%) scaleX(0.93);">22.3</div>
<div class="d bl" style="left:197.91px;top:113.87px;transform:translate(-50%,-50%) scaleX(0.93);">17.4</div>
<div class="d" style="left:245.02px;top:113.87px;transform:translate(-50%,-50%) scaleX(0.93);">14.6</div>
<div class="d bl" style="left:292.13px;top:113.87px;transform:translate(-50%,-50%) scaleX(0.93);">11.3</div>
<div class="d" style="left:339.24px;top:113.87px;transform:translate(-50%,-50%) scaleX(0.93);">9.1</div>
<div class="d bl" style="left:386.35px;top:113.87px;transform:translate(-50%,-50%) scaleX(0.93);">5.9</div>
<div class="d" style="left:433.46px;top:113.87px;transform:translate(-50%,-50%) scaleX(0.93);">4.4</div>
<div class="d bl" style="left:480.57px;top:113.87px;transform:translate(-50%,-50%) scaleX(0.93);">3.1</div>
<div class="d" style="left:528.14px;top:113.87px;transform:translate(-50%,-50%) scaleX(0.93);">1.7</div>
<div class="d dm bl" style="left:595.35px;top:108.31px;transform:translate(-50%,-50%);">798x 840x 2022</div>
<div class="d dm" style="left:681.00px;top:108.31px;transform:translate(-50%,-50%);">31.4x 33.1 x 79.6</div>
<div class="d dm bl" style="left:748.40px;top:108.31px;transform:translate(-50%,-50%);">244</div>
<div class="d dm" style="left:797.60px;top:108.31px;transform:translate(-50%,-50%);">538</div>
<div class="ty" style="left:12.20px;top:131.73px;transform:translateY(-50%) scaleX(0.9);">NGP 12</div>
<div class="d lb bl" style="left:95.80px;top:125.58px;transform:translate(-50%,-50%) scaleX(0.92);">FND scfm</div>
<div class="d" style="left:150.80px;top:125.58px;transform:translate(-50%,-50%) scaleX(0.93);">16.9</div>
<div class="d bl" style="left:197.91px;top:125.58px;transform:translate(-50%,-50%) scaleX(0.93);">13.2</div>
<div class="d" style="left:245.02px;top:125.58px;transform:translate(-50%,-50%) scaleX(0.93);">11.1</div>
<div class="d bl" style="left:292.13px;top:125.58px;transform:translate(-50%,-50%) scaleX(0.93);">8.5</div>
<div class="d" style="left:339.24px;top:125.58px;transform:translate(-50%,-50%) scaleX(0.93);">6.9</div>
<div class="d bl" style="left:386.35px;top:125.58px;transform:translate(-50%,-50%) scaleX(0.93);">4.5</div>
<div class="d" style="left:433.46px;top:125.58px;transform:translate(-50%,-50%) scaleX(0.93);">3.4</div>
<div class="d bl" style="left:480.57px;top:125.58px;transform:translate(-50%,-50%) scaleX(0.93);">2.3</div>
<div class="d" style="left:528.14px;top:125.58px;transform:translate(-50%,-50%) scaleX(0.93);">1.3</div>
<div class="d lb bl" style="left:95.80px;top:137.28px;transform:translate(-50%,-50%) scaleX(0.92);">FND Nm<sup>3</sup>/h</div>
<div class="d" style="left:150.80px;top:137.28px;transform:translate(-50%,-50%) scaleX(0.93);">28.8</div>
<div class="d bl" style="left:197.91px;top:137.28px;transform:translate(-50%,-50%) scaleX(0.93);">22.4</div>
<div class="d" style="left:245.02px;top:137.28px;transform:translate(-50%,-50%) scaleX(0.93);">18.8</div>
<div class="d bl" style="left:292.13px;top:137.28px;transform:translate(-50%,-50%) scaleX(0.93);">14.5</div>
<div class="d" style="left:339.24px;top:137.28px;transform:translate(-50%,-50%) scaleX(0.93);">11.7</div>
<div class="d bl" style="left:386.35px;top:137.28px;transform:translate(-50%,-50%) scaleX(0.93);">7.6</div>
<div class="d" style="left:433.46px;top:137.28px;transform:translate(-50%,-50%) scaleX(0.93);">5.7</div>
<div class="d bl" style="left:480.57px;top:137.28px;transform:translate(-50%,-50%) scaleX(0.93);">3.9</div>
<div class="d" style="left:528.14px;top:137.28px;transform:translate(-50%,-50%) scaleX(0.93);">2.2</div>
<div class="d dm bl" style="left:595.35px;top:131.73px;transform:translate(-50%,-50%);">798x 840x 2022</div>
<div class="d dm" style="left:681.00px;top:131.73px;transform:translate(-50%,-50%);">31.4x 33.1 x 79.6</div>
<div class="d dm bl" style="left:748.40px;top:131.73px;transform:translate(-50%,-50%);">257</div>
<div class="d dm" style="left:797.60px;top:131.73px;transform:translate(-50%,-50%);">567</div>
<div class="ty" style="left:12.20px;top:155.15px;transform:translateY(-50%) scaleX(0.9);">NGP 15</div>
<div class="d lb bl" style="left:95.80px;top:149.00px;transform:translate(-50%,-50%) scaleX(0.92);">FND scfm</div>
<div class="d" style="left:150.80px;top:149.00px;transform:translate(-50%,-50%) scaleX(0.93);">20.7</div>
<div class="d bl" style="left:197.91px;top:149.00px;transform:translate(-50%,-50%) scaleX(0.93);">16.1</div>
<div class="d" style="left:245.02px;top:149.00px;transform:translate(-50%,-50%) scaleX(0.93);">13.5</div>
<div class="d bl" style="left:292.13px;top:149.00px;transform:translate(-50%,-50%) scaleX(0.93);">10.4</div>
<div class="d" style="left:339.24px;top:149.00px;transform:translate(-50%,-50%) scaleX(0.93);">8.4</div>
<div class="d bl" style="left:386.35px;top:149.00px;transform:translate(-50%,-50%) scaleX(0.93);">5.5</div>
<div class="d" style="left:433.46px;top:149.00px;transform:translate(-50%,-50%) scaleX(0.93);">4.1</div>
<div class="d bl" style="left:480.57px;top:149.00px;transform:translate(-50%,-50%) scaleX(0.93);">2.8</div>
<div class="d" style="left:528.14px;top:149.00px;transform:translate(-50%,-50%) scaleX(0.93);">1.6</div>
<div class="d lb bl" style="left:95.80px;top:160.71px;transform:translate(-50%,-50%) scaleX(0.92);">FND Nm<sup>3</sup>/h</div>
<div class="d" style="left:150.80px;top:160.71px;transform:translate(-50%,-50%) scaleX(0.93);">35.2</div>
<div class="d bl" style="left:197.91px;top:160.71px;transform:translate(-50%,-50%) scaleX(0.93);">27.4</div>
<div class="d" style="left:245.02px;top:160.71px;transform:translate(-50%,-50%) scaleX(0.93);">23.0</div>
<div class="d bl" style="left:292.13px;top:160.71px;transform:translate(-50%,-50%) scaleX(0.93);">17.7</div>
<div class="d" style="left:339.24px;top:160.71px;transform:translate(-50%,-50%) scaleX(0.93);">14.3</div>
<div class="d bl" style="left:386.35px;top:160.71px;transform:translate(-50%,-50%) scaleX(0.93);">9.3</div>
<div class="d" style="left:433.46px;top:160.71px;transform:translate(-50%,-50%) scaleX(0.93);">7.0</div>
<div class="d bl" style="left:480.57px;top:160.71px;transform:translate(-50%,-50%) scaleX(0.93);">4.8</div>
<div class="d" style="left:528.14px;top:160.71px;transform:translate(-50%,-50%) scaleX(0.93);">2.7</div>
<div class="d dm bl" style="left:595.35px;top:155.15px;transform:translate(-50%,-50%);">798x 840x 2022</div>
<div class="d dm" style="left:681.00px;top:155.15px;transform:translate(-50%,-50%);">31.4x 33.1 x 79.6</div>
<div class="d dm bl" style="left:748.40px;top:155.15px;transform:translate(-50%,-50%);">270</div>
<div class="d dm" style="left:797.60px;top:155.15px;transform:translate(-50%,-50%);">595</div>
<div class="ty" style="left:12.20px;top:178.57px;transform:translateY(-50%) scaleX(0.9);">NGP 20</div>
<div class="d lb bl" style="left:95.80px;top:172.41px;transform:translate(-50%,-50%) scaleX(0.92);">FND scfm</div>
<div class="d" style="left:150.80px;top:172.41px;transform:translate(-50%,-50%) scaleX(0.93);">26.3</div>
<div class="d bl" style="left:197.91px;top:172.41px;transform:translate(-50%,-50%) scaleX(0.93);">20.5</div>
<div class="d" style="left:245.02px;top:172.41px;transform:translate(-50%,-50%) scaleX(0.93);">17.2</div>
<div class="d bl" style="left:292.13px;top:172.41px;transform:translate(-50%,-50%) scaleX(0.93);">13.2</div>
<div class="d" style="left:339.24px;top:172.41px;transform:translate(-50%,-50%) scaleX(0.93);">10.7</div>
<div class="d bl" style="left:386.35px;top:172.41px;transform:translate(-50%,-50%) scaleX(0.93);">6.9</div>
<div class="d" style="left:433.46px;top:172.41px;transform:translate(-50%,-50%) scaleX(0.93);">5.2</div>
<div class="d bl" style="left:480.57px;top:172.41px;transform:translate(-50%,-50%) scaleX(0.93);">3.6</div>
<div class="d" style="left:528.14px;top:172.41px;transform:translate(-50%,-50%) scaleX(0.93);">2.0</div>
<div class="d lb bl" style="left:95.80px;top:184.12px;transform:translate(-50%,-50%) scaleX(0.92);">FND Nm<sup>3</sup>/h</div>
<div class="d" style="left:150.80px;top:184.12px;transform:translate(-50%,-50%) scaleX(0.93);">44.7</div>
<div class="d bl" style="left:197.91px;top:184.12px;transform:translate(-50%,-50%) scaleX(0.93);">34.9</div>
<div class="d" style="left:245.02px;top:184.12px;transform:translate(-50%,-50%) scaleX(0.93);">29.3</div>
<div class="d bl" style="left:292.13px;top:184.12px;transform:translate(-50%,-50%) scaleX(0.93);">22.5</div>
<div class="d" style="left:339.24px;top:184.12px;transform:translate(-50%,-50%) scaleX(0.93);">18.2</div>
<div class="d bl" style="left:386.35px;top:184.12px;transform:translate(-50%,-50%) scaleX(0.93);">11.8</div>
<div class="d" style="left:433.46px;top:184.12px;transform:translate(-50%,-50%) scaleX(0.93);">8.9</div>
<div class="d bl" style="left:480.57px;top:184.12px;transform:translate(-50%,-50%) scaleX(0.93);">6.1</div>
<div class="d" style="left:528.14px;top:184.12px;transform:translate(-50%,-50%) scaleX(0.93);">3.4</div>
<div class="d dm bl" style="left:595.35px;top:178.57px;transform:translate(-50%,-50%);">798x 840x 2022</div>
<div class="d dm" style="left:681.00px;top:178.57px;transform:translate(-50%,-50%);">31.4x 33.1 x 79.6</div>
<div class="d dm bl" style="left:748.40px;top:178.57px;transform:translate(-50%,-50%);">306</div>
<div class="d dm" style="left:797.60px;top:178.57px;transform:translate(-50%,-50%);">675</div>
<div class="ty" style="left:12.20px;top:201.99px;transform:translateY(-50%) scaleX(0.9);">NGP 25</div>
<div class="d lb bl" style="left:95.80px;top:195.84px;transform:translate(-50%,-50%) scaleX(0.92);">FND scfm</div>
<div class="d" style="left:150.80px;top:195.84px;transform:translate(-50%,-50%) scaleX(0.93);">33.8</div>
<div class="d bl" style="left:197.91px;top:195.84px;transform:translate(-50%,-50%) scaleX(0.93);">26.4</div>
<div class="d" style="left:245.02px;top:195.84px;transform:translate(-50%,-50%) scaleX(0.93);">22.1</div>
<div class="d bl" style="left:292.13px;top:195.84px;transform:translate(-50%,-50%) scaleX(0.93);">17.1</div>
<div class="d" style="left:339.24px;top:195.84px;transform:translate(-50%,-50%) scaleX(0.93);">13.8</div>
<div class="d bl" style="left:386.35px;top:195.84px;transform:translate(-50%,-50%) scaleX(0.93);">8.9</div>
<div class="d" style="left:433.46px;top:195.84px;transform:translate(-50%,-50%) scaleX(0.93);">6.7</div>
<div class="d bl" style="left:480.57px;top:195.84px;transform:translate(-50%,-50%) scaleX(0.93);">4.6</div>
<div class="d" style="left:528.14px;top:195.84px;transform:translate(-50%,-50%) scaleX(0.93);">2.6</div>
<div class="d lb bl" style="left:95.80px;top:207.55px;transform:translate(-50%,-50%) scaleX(0.92);">FND Nm<sup>3</sup>/h</div>
<div class="d" style="left:150.80px;top:207.55px;transform:translate(-50%,-50%) scaleX(0.93);">57.5</div>
<div class="d bl" style="left:197.91px;top:207.55px;transform:translate(-50%,-50%) scaleX(0.93);">44.9</div>
<div class="d" style="left:245.02px;top:207.55px;transform:translate(-50%,-50%) scaleX(0.93);">37.6</div>
<div class="d bl" style="left:292.13px;top:207.55px;transform:translate(-50%,-50%) scaleX(0.93);">29.0</div>
<div class="d" style="left:339.24px;top:207.55px;transform:translate(-50%,-50%) scaleX(0.93);">23.4</div>
<div class="d bl" style="left:386.35px;top:207.55px;transform:translate(-50%,-50%) scaleX(0.93);">15.2</div>
<div class="d" style="left:433.46px;top:207.55px;transform:translate(-50%,-50%) scaleX(0.93);">11.4</div>
<div class="d bl" style="left:480.57px;top:207.55px;transform:translate(-50%,-50%) scaleX(0.93);">7.9</div>
<div class="d" style="left:528.14px;top:207.55px;transform:translate(-50%,-50%) scaleX(0.93);">4.4</div>
<div class="d dm bl" style="left:595.35px;top:201.99px;transform:translate(-50%,-50%);">798x 840x 2022</div>
<div class="d dm" style="left:681.00px;top:201.99px;transform:translate(-50%,-50%);">31.4x 33.1 x 79.6</div>
<div class="d dm bl" style="left:748.40px;top:201.99px;transform:translate(-50%,-50%);">339</div>
<div class="d dm" style="left:797.60px;top:201.99px;transform:translate(-50%,-50%);">747</div>
<div class="ty" style="left:12.20px;top:225.41px;transform:translateY(-50%) scaleX(0.9);">NGP 30</div>
<div class="d lb bl" style="left:95.80px;top:219.26px;transform:translate(-50%,-50%) scaleX(0.92);">FND scfm</div>
<div class="d" style="left:150.80px;top:219.26px;transform:translate(-50%,-50%) scaleX(0.93);">41.3</div>
<div class="d bl" style="left:197.91px;top:219.26px;transform:translate(-50%,-50%) scaleX(0.93);">32.3</div>
<div class="d" style="left:245.02px;top:219.26px;transform:translate(-50%,-50%) scaleX(0.93);">27.0</div>
<div class="d bl" style="left:292.13px;top:219.26px;transform:translate(-50%,-50%) scaleX(0.93);">20.9</div>
<div class="d" style="left:339.24px;top:219.26px;transform:translate(-50%,-50%) scaleX(0.93);">16.8</div>
<div class="d bl" style="left:386.35px;top:219.26px;transform:translate(-50%,-50%) scaleX(0.93);">10.9</div>
<div class="d" style="left:433.46px;top:219.26px;transform:translate(-50%,-50%) scaleX(0.93);">8.2</div>
<div class="d bl" style="left:480.57px;top:219.26px;transform:translate(-50%,-50%) scaleX(0.93);">5.7</div>
<div class="d" style="left:528.14px;top:219.26px;transform:translate(-50%,-50%) scaleX(0.93);">3.1</div>
<div class="d lb bl" style="left:95.80px;top:230.97px;transform:translate(-50%,-50%) scaleX(0.92);">FND Nm<sup>3</sup>/h</div>
<div class="d" style="left:150.80px;top:230.97px;transform:translate(-50%,-50%) scaleX(0.93);">70.3</div>
<div class="d bl" style="left:197.91px;top:230.97px;transform:translate(-50%,-50%) scaleX(0.93);">54.9</div>
<div class="d" style="left:245.02px;top:230.97px;transform:translate(-50%,-50%) scaleX(0.93);">46.0</div>
<div class="d bl" style="left:292.13px;top:230.97px;transform:translate(-50%,-50%) scaleX(0.93);">35.5</div>
<div class="d" style="left:339.24px;top:230.97px;transform:translate(-50%,-50%) scaleX(0.93);">28.6</div>
<div class="d bl" style="left:386.35px;top:230.97px;transform:translate(-50%,-50%) scaleX(0.93);">18.6</div>
<div class="d" style="left:433.46px;top:230.97px;transform:translate(-50%,-50%) scaleX(0.93);">14.0</div>
<div class="d bl" style="left:480.57px;top:230.97px;transform:translate(-50%,-50%) scaleX(0.93);">9.7</div>
<div class="d" style="left:528.14px;top:230.97px;transform:translate(-50%,-50%) scaleX(0.93);">5.3</div>
<div class="d dm bl" style="left:595.35px;top:225.41px;transform:translate(-50%,-50%);">798x 840x 2022</div>
<div class="d dm" style="left:681.00px;top:225.41px;transform:translate(-50%,-50%);">31.4x 33.1 x 79.6</div>
<div class="d dm bl" style="left:748.40px;top:225.41px;transform:translate(-50%,-50%);">360</div>
<div class="d dm" style="left:797.60px;top:225.41px;transform:translate(-50%,-50%);">794</div>
<div class="ty" style="left:12.20px;top:248.83px;transform:translateY(-50%) scaleX(0.9);">NGP 35</div>
<div class="d lb bl" style="left:95.80px;top:242.68px;transform:translate(-50%,-50%) scaleX(0.92);">FND scfm</div>
<div class="d" style="left:150.80px;top:242.68px;transform:translate(-50%,-50%) scaleX(0.93);">50.7</div>
<div class="d bl" style="left:197.91px;top:242.68px;transform:translate(-50%,-50%) scaleX(0.93);">39.6</div>
<div class="d" style="left:245.02px;top:242.68px;transform:translate(-50%,-50%) scaleX(0.93);">33.2</div>
<div class="d bl" style="left:292.13px;top:242.68px;transform:translate(-50%,-50%) scaleX(0.93);">25.6</div>
<div class="d" style="left:339.24px;top:242.68px;transform:translate(-50%,-50%) scaleX(0.93);">20.6</div>
<div class="d bl" style="left:386.35px;top:242.68px;transform:translate(-50%,-50%) scaleX(0.93);">13.4</div>
<div class="d" style="left:433.46px;top:242.68px;transform:translate(-50%,-50%) scaleX(0.93);">10.1</div>
<div class="d bl" style="left:480.57px;top:242.68px;transform:translate(-50%,-50%) scaleX(0.93);">7.3</div>
<div class="d" style="left:528.14px;top:242.68px;transform:translate(-50%,-50%) scaleX(0.93);">4.2</div>
<div class="d lb bl" style="left:95.80px;top:254.39px;transform:translate(-50%,-50%) scaleX(0.92);">FND Nm<sup>3</sup>/h</div>
<div class="d" style="left:150.80px;top:254.39px;transform:translate(-50%,-50%) scaleX(0.93);">86.3</div>
<div class="d bl" style="left:197.91px;top:254.39px;transform:translate(-50%,-50%) scaleX(0.93);">67.3</div>
<div class="d" style="left:245.02px;top:254.39px;transform:translate(-50%,-50%) scaleX(0.93);">56.5</div>
<div class="d bl" style="left:292.13px;top:254.39px;transform:translate(-50%,-50%) scaleX(0.93);">43.5</div>
<div class="d" style="left:339.24px;top:254.39px;transform:translate(-50%,-50%) scaleX(0.93);">35.1</div>
<div class="d bl" style="left:386.35px;top:254.39px;transform:translate(-50%,-50%) scaleX(0.93);">22.8</div>
<div class="d" style="left:433.46px;top:254.39px;transform:translate(-50%,-50%) scaleX(0.93);">17.1</div>
<div class="d bl" style="left:480.57px;top:254.39px;transform:translate(-50%,-50%) scaleX(0.93);">12.4</div>
<div class="d" style="left:528.14px;top:254.39px;transform:translate(-50%,-50%) scaleX(0.93);">7.1</div>
<div class="d dm bl" style="left:595.35px;top:248.83px;transform:translate(-50%,-50%);">798x 840x 2022</div>
<div class="d dm" style="left:681.00px;top:248.83px;transform:translate(-50%,-50%);">31.4x 33.1 x 79.6</div>
<div class="d dm bl" style="left:748.40px;top:248.83px;transform:translate(-50%,-50%);">599</div>
<div class="d dm" style="left:797.60px;top:248.83px;transform:translate(-50%,-50%);">1321</div>
<div class="ty" style="left:12.20px;top:272.25px;transform:translateY(-50%) scaleX(0.9);">NGP 40</div>
<div class="d lb bl" style="left:95.80px;top:266.10px;transform:translate(-50%,-50%) scaleX(0.92);">FND scfm</div>
<div class="d" style="left:150.80px;top:266.10px;transform:translate(-50%,-50%) scaleX(0.93);">62.0</div>
<div class="d bl" style="left:197.91px;top:266.10px;transform:translate(-50%,-50%) scaleX(0.93);">48.4</div>
<div class="d" style="left:245.02px;top:266.10px;transform:translate(-50%,-50%) scaleX(0.93);">40.6</div>
<div class="d bl" style="left:292.13px;top:266.10px;transform:translate(-50%,-50%) scaleX(0.93);">31.3</div>
<div class="d" style="left:339.24px;top:266.10px;transform:translate(-50%,-50%) scaleX(0.93);">25.2</div>
<div class="d bl" style="left:386.35px;top:266.10px;transform:translate(-50%,-50%) scaleX(0.93);">16.4</div>
<div class="d" style="left:433.46px;top:266.10px;transform:translate(-50%,-50%) scaleX(0.93);">12.3</div>
<div class="d bl" style="left:480.57px;top:266.10px;transform:translate(-50%,-50%) scaleX(0.93);">8.9</div>
<div class="d" style="left:528.14px;top:266.10px;transform:translate(-50%,-50%) scaleX(0.93);">5.1</div>
<div class="d lb bl" style="left:95.80px;top:277.81px;transform:translate(-50%,-50%) scaleX(0.92);">FND Nm<sup>3</sup>/h</div>
<div class="d" style="left:150.80px;top:277.81px;transform:translate(-50%,-50%) scaleX(0.93);">105.5</div>
<div class="d bl" style="left:197.91px;top:277.81px;transform:translate(-50%,-50%) scaleX(0.93);">82.3</div>
<div class="d" style="left:245.02px;top:277.81px;transform:translate(-50%,-50%) scaleX(0.93);">69.1</div>
<div class="d bl" style="left:292.13px;top:277.81px;transform:translate(-50%,-50%) scaleX(0.93);">53.2</div>
<div class="d" style="left:339.24px;top:277.81px;transform:translate(-50%,-50%) scaleX(0.93);">42.9</div>
<div class="d bl" style="left:386.35px;top:277.81px;transform:translate(-50%,-50%) scaleX(0.93);">27.9</div>
<div class="d" style="left:433.46px;top:277.81px;transform:translate(-50%,-50%) scaleX(0.93);">20.9</div>
<div class="d bl" style="left:480.57px;top:277.81px;transform:translate(-50%,-50%) scaleX(0.93);">15.2</div>
<div class="d" style="left:528.14px;top:277.81px;transform:translate(-50%,-50%) scaleX(0.93);">8.7</div>
<div class="d dm bl" style="left:595.35px;top:272.25px;transform:translate(-50%,-50%);">798x 840x 2022</div>
<div class="d dm" style="left:681.00px;top:272.25px;transform:translate(-50%,-50%);">31.4x 33.1 x 79.6</div>
<div class="d dm bl" style="left:748.40px;top:272.25px;transform:translate(-50%,-50%);">627</div>
<div class="d dm" style="left:797.60px;top:272.25px;transform:translate(-50%,-50%);">1382</div>
<div class="ty" style="left:12.20px;top:295.67px;transform:translateY(-50%) scaleX(0.9);">NGP 50</div>
<div class="d lb bl" style="left:95.80px;top:289.52px;transform:translate(-50%,-50%) scaleX(0.92);">FND scfm</div>
<div class="d" style="left:150.80px;top:289.52px;transform:translate(-50%,-50%) scaleX(0.93);">67.6</div>
<div class="d bl" style="left:197.91px;top:289.52px;transform:translate(-50%,-50%) scaleX(0.93);">52.7</div>
<div class="d" style="left:245.02px;top:289.52px;transform:translate(-50%,-50%) scaleX(0.93);">44.3</div>
<div class="d bl" style="left:292.13px;top:289.52px;transform:translate(-50%,-50%) scaleX(0.93);">34.1</div>
<div class="d" style="left:339.24px;top:289.52px;transform:translate(-50%,-50%) scaleX(0.93);">27.5</div>
<div class="d bl" style="left:386.35px;top:289.52px;transform:translate(-50%,-50%) scaleX(0.93);">17.9</div>
<div class="d" style="left:433.46px;top:289.52px;transform:translate(-50%,-50%) scaleX(0.93);">13.4</div>
<div class="d bl" style="left:480.57px;top:289.52px;transform:translate(-50%,-50%) scaleX(0.93);">9.7</div>
<div class="d" style="left:528.14px;top:289.52px;transform:translate(-50%,-50%) scaleX(0.93);">5.6</div>
<div class="d lb bl" style="left:95.80px;top:301.23px;transform:translate(-50%,-50%) scaleX(0.92);">FND Nm<sup>3</sup>/h</div>
<div class="d" style="left:150.80px;top:301.23px;transform:translate(-50%,-50%) scaleX(0.93);">115.0</div>
<div class="d bl" style="left:197.91px;top:301.23px;transform:translate(-50%,-50%) scaleX(0.93);">89.7</div>
<div class="d" style="left:245.02px;top:301.23px;transform:translate(-50%,-50%) scaleX(0.93);">75.3</div>
<div class="d bl" style="left:292.13px;top:301.23px;transform:translate(-50%,-50%) scaleX(0.93);">58.0</div>
<div class="d" style="left:339.24px;top:301.23px;transform:translate(-50%,-50%) scaleX(0.93);">46.8</div>
<div class="d bl" style="left:386.35px;top:301.23px;transform:translate(-50%,-50%) scaleX(0.93);">30.4</div>
<div class="d" style="left:433.46px;top:301.23px;transform:translate(-50%,-50%) scaleX(0.93);">22.8</div>
<div class="d bl" style="left:480.57px;top:301.23px;transform:translate(-50%,-50%) scaleX(0.93);">16.5</div>
<div class="d" style="left:528.14px;top:301.23px;transform:translate(-50%,-50%) scaleX(0.93);">9.5</div>
<div class="d dm bl" style="left:595.35px;top:295.67px;transform:translate(-50%,-50%);">798x 840x 2022</div>
<div class="d dm" style="left:681.00px;top:295.67px;transform:translate(-50%,-50%);">31.4x 33.1 x 79.6</div>
<div class="d dm bl" style="left:748.40px;top:295.67px;transform:translate(-50%,-50%);">663</div>
<div class="d dm" style="left:797.60px;top:295.67px;transform:translate(-50%,-50%);">1462</div>
<div class="ty" style="left:12.20px;top:319.09px;transform:translateY(-50%) scaleX(0.9);">NGP 60</div>
<div class="d lb bl" style="left:95.80px;top:312.94px;transform:translate(-50%,-50%) scaleX(0.92);">FND scfm</div>
<div class="d" style="left:150.80px;top:312.94px;transform:translate(-50%,-50%) scaleX(0.93);">82.7</div>
<div class="d bl" style="left:197.91px;top:312.94px;transform:translate(-50%,-50%) scaleX(0.93);">52.7</div>
<div class="d" style="left:245.02px;top:312.94px;transform:translate(-50%,-50%) scaleX(0.93);">44.3</div>
<div class="d bl" style="left:292.13px;top:312.94px;transform:translate(-50%,-50%) scaleX(0.93);">34.1</div>
<div class="d" style="left:339.24px;top:312.94px;transform:translate(-50%,-50%) scaleX(0.93);">27.5</div>
<div class="d bl" style="left:386.35px;top:312.94px;transform:translate(-50%,-50%) scaleX(0.93);">17.9</div>
<div class="d" style="left:433.46px;top:312.94px;transform:translate(-50%,-50%) scaleX(0.93);">13.4</div>
<div class="d bl" style="left:480.57px;top:312.94px;transform:translate(-50%,-50%) scaleX(0.93);">9.7</div>
<div class="d" style="left:528.14px;top:312.94px;transform:translate(-50%,-50%) scaleX(0.93);">5.6</div>
<div class="d lb bl" style="left:95.80px;top:324.65px;transform:translate(-50%,-50%) scaleX(0.92);">FND Nm<sup>3</sup>/h</div>
<div class="d" style="left:150.80px;top:324.65px;transform:translate(-50%,-50%) scaleX(0.93);">140.7</div>
<div class="d bl" style="left:197.91px;top:324.65px;transform:translate(-50%,-50%) scaleX(0.93);">109.8</div>
<div class="d" style="left:245.02px;top:324.65px;transform:translate(-50%,-50%) scaleX(0.93);">92.1</div>
<div class="d bl" style="left:292.13px;top:324.65px;transform:translate(-50%,-50%) scaleX(0.93);">70.9</div>
<div class="d" style="left:339.24px;top:324.65px;transform:translate(-50%,-50%) scaleX(0.93);">57.2</div>
<div class="d bl" style="left:386.35px;top:324.65px;transform:translate(-50%,-50%) scaleX(0.93);">37.2</div>
<div class="d" style="left:433.46px;top:324.65px;transform:translate(-50%,-50%) scaleX(0.93);">27.9</div>
<div class="d bl" style="left:480.57px;top:324.65px;transform:translate(-50%,-50%) scaleX(0.93);">20.2</div>
<div class="d" style="left:528.14px;top:324.65px;transform:translate(-50%,-50%) scaleX(0.93);">11.6</div>
<div class="d dm bl" style="left:595.35px;top:319.09px;transform:translate(-50%,-50%);">798x 840x 2022</div>
<div class="d dm" style="left:681.00px;top:319.09px;transform:translate(-50%,-50%);">31.4x 33.1 x 79.6</div>
<div class="d dm bl" style="left:748.40px;top:319.09px;transform:translate(-50%,-50%);">716</div>
<div class="d dm" style="left:797.60px;top:319.09px;transform:translate(-50%,-50%);">1579</div>
<div class="ty" style="left:12.20px;top:342.51px;transform:translateY(-50%) scaleX(0.9);">NGP 70</div>
<div class="d lb bl" style="left:95.80px;top:336.36px;transform:translate(-50%,-50%) scaleX(0.92);">FND scfm</div>
<div class="d" style="left:150.80px;top:336.36px;transform:translate(-50%,-50%) scaleX(0.93);">93.9</div>
<div class="d bl" style="left:197.91px;top:336.36px;transform:translate(-50%,-50%) scaleX(0.93);">71.3</div>
<div class="d" style="left:245.02px;top:336.36px;transform:translate(-50%,-50%) scaleX(0.93);">60.4</div>
<div class="d bl" style="left:292.13px;top:336.36px;transform:translate(-50%,-50%) scaleX(0.93);">51.2</div>
<div class="d" style="left:339.24px;top:336.36px;transform:translate(-50%,-50%) scaleX(0.93);">41.3</div>
<div class="d bl" style="left:386.35px;top:336.36px;transform:translate(-50%,-50%) scaleX(0.93);">26.8</div>
<div class="d" style="left:433.46px;top:336.36px;transform:translate(-50%,-50%) scaleX(0.93);">19.1</div>
<div class="d bl" style="left:480.57px;top:336.36px;transform:translate(-50%,-50%) scaleX(0.93);">13.6</div>
<div class="d" style="left:528.14px;top:336.36px;transform:translate(-50%,-50%) scaleX(0.93);">8.3</div>
<div class="d lb bl" style="left:95.80px;top:348.07px;transform:translate(-50%,-50%) scaleX(0.92);">FND Nm<sup>3</sup>/h</div>
<div class="d" style="left:150.80px;top:348.07px;transform:translate(-50%,-50%) scaleX(0.93);">159.7</div>
<div class="d bl" style="left:197.91px;top:348.07px;transform:translate(-50%,-50%) scaleX(0.93);">121.2</div>
<div class="d" style="left:245.02px;top:348.07px;transform:translate(-50%,-50%) scaleX(0.93);">102.7</div>
<div class="d bl" style="left:292.13px;top:348.07px;transform:translate(-50%,-50%) scaleX(0.93);">87.0</div>
<div class="d" style="left:339.24px;top:348.07px;transform:translate(-50%,-50%) scaleX(0.93);">70.2</div>
<div class="d bl" style="left:386.35px;top:348.07px;transform:translate(-50%,-50%) scaleX(0.93);">45.6</div>
<div class="d" style="left:433.46px;top:348.07px;transform:translate(-50%,-50%) scaleX(0.93);">32.5</div>
<div class="d bl" style="left:480.57px;top:348.07px;transform:translate(-50%,-50%) scaleX(0.93);">23.1</div>
<div class="d" style="left:528.14px;top:348.07px;transform:translate(-50%,-50%) scaleX(0.93);">14.2</div>
<div class="d dm bl" style="left:595.35px;top:342.51px;transform:translate(-50%,-50%);">798x 840x 2022</div>
<div class="d dm" style="left:681.00px;top:342.51px;transform:translate(-50%,-50%);">31.4x 33.1 x 79.6</div>
<div class="d dm bl" style="left:748.40px;top:342.51px;transform:translate(-50%,-50%);">805</div>
<div class="d dm" style="left:797.60px;top:342.51px;transform:translate(-50%,-50%);">1775</div>
<div class="ty" style="left:12.20px;top:365.93px;transform:translateY(-50%) scaleX(0.9);">NGP 85</div>
<div class="d lb bl" style="left:95.80px;top:359.78px;transform:translate(-50%,-50%) scaleX(0.92);">FND scfm</div>
<div class="d" style="left:150.80px;top:359.78px;transform:translate(-50%,-50%) scaleX(0.93);">•</div>
<div class="d bl" style="left:197.91px;top:359.78px;transform:translate(-50%,-50%) scaleX(0.93);">71.3</div>
<div class="d" style="left:245.02px;top:359.78px;transform:translate(-50%,-50%) scaleX(0.93);">60.4</div>
<div class="d bl" style="left:292.13px;top:359.78px;transform:translate(-50%,-50%) scaleX(0.93);">51.2</div>
<div class="d" style="left:339.24px;top:359.78px;transform:translate(-50%,-50%) scaleX(0.93);">41.3</div>
<div class="d bl" style="left:386.35px;top:359.78px;transform:translate(-50%,-50%) scaleX(0.93);">26.8</div>
<div class="d" style="left:433.46px;top:359.78px;transform:translate(-50%,-50%) scaleX(0.93);">19.1</div>
<div class="d bl" style="left:480.57px;top:359.78px;transform:translate(-50%,-50%) scaleX(0.93);">13.6</div>
<div class="d" style="left:528.14px;top:359.78px;transform:translate(-50%,-50%) scaleX(0.93);">8.3</div>
<div class="d lb bl" style="left:95.80px;top:371.49px;transform:translate(-50%,-50%) scaleX(0.92);">FND Nm<sup>3</sup>/h</div>
<div class="d" style="left:150.80px;top:371.49px;transform:translate(-50%,-50%) scaleX(0.93);">•</div>
<div class="d bl" style="left:197.91px;top:371.49px;transform:translate(-50%,-50%) scaleX(0.93);">148.3</div>
<div class="d" style="left:245.02px;top:371.49px;transform:translate(-50%,-50%) scaleX(0.93);">125.6</div>
<div class="d bl" style="left:292.13px;top:371.49px;transform:translate(-50%,-50%) scaleX(0.93);">106.4</div>
<div class="d" style="left:339.24px;top:371.49px;transform:translate(-50%,-50%) scaleX(0.93);">85.8</div>
<div class="d bl" style="left:386.35px;top:371.49px;transform:translate(-50%,-50%) scaleX(0.93);">55.8</div>
<div class="d" style="left:433.46px;top:371.49px;transform:translate(-50%,-50%) scaleX(0.93);">39.8</div>
<div class="d bl" style="left:480.57px;top:371.49px;transform:translate(-50%,-50%) scaleX(0.93);">28.3</div>
<div class="d" style="left:528.14px;top:371.49px;transform:translate(-50%,-50%) scaleX(0.93);">17.4</div>
<div class="d dm bl" style="left:595.35px;top:365.93px;transform:translate(-50%,-50%);">798x 840x 2022</div>
<div class="d dm" style="left:681.00px;top:365.93px;transform:translate(-50%,-50%);">31.4x 33.1 x 79.6</div>
<div class="d dm bl" style="left:748.40px;top:365.93px;transform:translate(-50%,-50%);">1018</div>
<div class="d dm" style="left:797.60px;top:365.93px;transform:translate(-50%,-50%);">2244</div>
<div class="ty" style="left:12.20px;top:389.35px;transform:translateY(-50%) scaleX(0.9);">NGP 100</div>
<div class="d lb bl" style="left:95.80px;top:383.20px;transform:translate(-50%,-50%) scaleX(0.92);">FND scfm</div>
<div class="d" style="left:150.80px;top:383.20px;transform:translate(-50%,-50%) scaleX(0.93);">•</div>
<div class="d bl" style="left:197.91px;top:383.20px;transform:translate(-50%,-50%) scaleX(0.93);">•</div>
<div class="d" style="left:245.02px;top:383.20px;transform:translate(-50%,-50%) scaleX(0.93);">73.9</div>
<div class="d bl" style="left:292.13px;top:383.20px;transform:translate(-50%,-50%) scaleX(0.93);">62.6</div>
<div class="d" style="left:339.24px;top:383.20px;transform:translate(-50%,-50%) scaleX(0.93);">50.5</div>
<div class="d bl" style="left:386.35px;top:383.20px;transform:translate(-50%,-50%) scaleX(0.93);">32.8</div>
<div class="d" style="left:433.46px;top:383.20px;transform:translate(-50%,-50%) scaleX(0.93);">23.4</div>
<div class="d bl" style="left:480.57px;top:383.20px;transform:translate(-50%,-50%) scaleX(0.93);">16.6</div>
<div class="d" style="left:528.14px;top:383.20px;transform:translate(-50%,-50%) scaleX(0.93);">10.2</div>
<div class="d lb bl" style="left:95.80px;top:394.91px;transform:translate(-50%,-50%) scaleX(0.92);">FND Nm<sup>3</sup>/h</div>
<div class="d" style="left:150.80px;top:394.91px;transform:translate(-50%,-50%) scaleX(0.93);">•</div>
<div class="d bl" style="left:197.91px;top:394.91px;transform:translate(-50%,-50%) scaleX(0.93);">•</div>
<div class="d" style="left:245.02px;top:394.91px;transform:translate(-50%,-50%) scaleX(0.93);">138.1</div>
<div class="d bl" style="left:292.13px;top:394.91px;transform:translate(-50%,-50%) scaleX(0.93);">108.8</div>
<div class="d" style="left:339.24px;top:394.91px;transform:translate(-50%,-50%) scaleX(0.93);">91.2</div>
<div class="d bl" style="left:386.35px;top:394.91px;transform:translate(-50%,-50%) scaleX(0.93);">59.1</div>
<div class="d" style="left:433.46px;top:394.91px;transform:translate(-50%,-50%) scaleX(0.93);">46.5</div>
<div class="d bl" style="left:480.57px;top:394.91px;transform:translate(-50%,-50%) scaleX(0.93);">34.0</div>
<div class="d" style="left:528.14px;top:394.91px;transform:translate(-50%,-50%) scaleX(0.93);">20.5</div>
<div class="d dm bl" style="left:595.35px;top:389.35px;transform:translate(-50%,-50%);">798x 840x 2022</div>
<div class="d dm" style="left:681.00px;top:389.35px;transform:translate(-50%,-50%);">31.4x 33.1 x 79.6</div>
<div class="d dm bl" style="left:748.40px;top:389.35px;transform:translate(-50%,-50%);">1191</div>
<div class="d dm" style="left:797.60px;top:389.35px;transform:translate(-50%,-50%);">2626</div>
<div class="ty" style="left:12.20px;top:412.77px;transform:translateY(-50%) scaleX(0.9);">NGP 115</div>
<div class="d lb bl" style="left:95.80px;top:406.62px;transform:translate(-50%,-50%) scaleX(0.92);">FND scfm</div>
<div class="d" style="left:150.80px;top:406.62px;transform:translate(-50%,-50%) scaleX(0.93);">•</div>
<div class="d bl" style="left:197.91px;top:406.62px;transform:translate(-50%,-50%) scaleX(0.93);">•</div>
<div class="d" style="left:245.02px;top:406.62px;transform:translate(-50%,-50%) scaleX(0.93);">•</div>
<div class="d bl" style="left:292.13px;top:406.62px;transform:translate(-50%,-50%) scaleX(0.93);">64.0</div>
<div class="d" style="left:339.24px;top:406.62px;transform:translate(-50%,-50%) scaleX(0.93);">53.6</div>
<div class="d bl" style="left:386.35px;top:406.62px;transform:translate(-50%,-50%) scaleX(0.93);">34.8</div>
<div class="d" style="left:433.46px;top:406.62px;transform:translate(-50%,-50%) scaleX(0.93);">27.3</div>
<div class="d bl" style="left:480.57px;top:406.62px;transform:translate(-50%,-50%) scaleX(0.93);">20.0</div>
<div class="d" style="left:528.14px;top:406.62px;transform:translate(-50%,-50%) scaleX(0.93);">12.1</div>
<div class="d lb bl" style="left:95.80px;top:418.33px;transform:translate(-50%,-50%) scaleX(0.92);">FND Nm<sup>3</sup>/h</div>
<div class="d" style="left:150.80px;top:418.33px;transform:translate(-50%,-50%) scaleX(0.93);">•</div>
<div class="d bl" style="left:197.91px;top:418.33px;transform:translate(-50%,-50%) scaleX(0.93);">•</div>
<div class="d" style="left:245.02px;top:418.33px;transform:translate(-50%,-50%) scaleX(0.93);">•</div>
<div class="d bl" style="left:292.13px;top:418.33px;transform:translate(-50%,-50%) scaleX(0.93);">126.5</div>
<div class="d" style="left:339.24px;top:418.33px;transform:translate(-50%,-50%) scaleX(0.93);">104.2</div>
<div class="d bl" style="left:386.35px;top:418.33px;transform:translate(-50%,-50%) scaleX(0.93);">64.7</div>
<div class="d" style="left:433.46px;top:418.33px;transform:translate(-50%,-50%) scaleX(0.93);">53.0</div>
<div class="d bl" style="left:480.57px;top:418.33px;transform:translate(-50%,-50%) scaleX(0.93);">37.7</div>
<div class="d" style="left:528.14px;top:418.33px;transform:translate(-50%,-50%) scaleX(0.93);">23.3</div>
<div class="d dm bl" style="left:595.35px;top:412.77px;transform:translate(-50%,-50%);">798x 840x 2022</div>
<div class="d dm" style="left:681.00px;top:412.77px;transform:translate(-50%,-50%);">31.4x 33.1 x 79.6</div>
<div class="d dm bl" style="left:748.40px;top:412.77px;transform:translate(-50%,-50%);">1191</div>
<div class="d dm" style="left:797.60px;top:412.77px;transform:translate(-50%,-50%);">2626</div>
<div class="ty" style="left:12.20px;top:436.19px;transform:translateY(-50%) scaleX(0.9);">NGP 420</div>
<div class="d lb bl" style="left:95.80px;top:430.04px;transform:translate(-50%,-50%) scaleX(0.92);">FND scfm</div>
<div class="d" style="left:150.80px;top:430.04px;transform:translate(-50%,-50%) scaleX(0.93);">580.5</div>
<div class="d bl" style="left:197.91px;top:430.04px;transform:translate(-50%,-50%) scaleX(0.93);">454.9</div>
<div class="d" style="left:245.02px;top:430.04px;transform:translate(-50%,-50%) scaleX(0.93);">371.1</div>
<div class="d bl" style="left:292.13px;top:430.04px;transform:translate(-50%,-50%) scaleX(0.93);">311.3</div>
<div class="d" style="left:339.24px;top:430.04px;transform:translate(-50%,-50%) scaleX(0.93);">251.4</div>
<div class="d bl" style="left:386.35px;top:430.04px;transform:translate(-50%,-50%) scaleX(0.93);">167.5</div>
<div class="d" style="left:433.46px;top:430.04px;transform:translate(-50%,-50%) scaleX(0.93);">122.6</div>
<div class="d bl" style="left:480.57px;top:430.04px;transform:translate(-50%,-50%) scaleX(0.93);">83.9</div>
<div class="d" style="left:528.14px;top:430.04px;transform:translate(-50%,-50%) scaleX(0.93);">36.4</div>
<div class="d lb bl" style="left:95.80px;top:441.75px;transform:translate(-50%,-50%) scaleX(0.92);">FND Nm<sup>3</sup>/h</div>
<div class="d" style="left:150.80px;top:441.75px;transform:translate(-50%,-50%) scaleX(0.93);">986.8</div>
<div class="d bl" style="left:197.91px;top:441.75px;transform:translate(-50%,-50%) scaleX(0.93);">773.2</div>
<div class="d" style="left:245.02px;top:441.75px;transform:translate(-50%,-50%) scaleX(0.93);">630.8</div>
<div class="d bl" style="left:292.13px;top:441.75px;transform:translate(-50%,-50%) scaleX(0.93);">529.0</div>
<div class="d" style="left:339.24px;top:441.75px;transform:translate(-50%,-50%) scaleX(0.93);">427.3</div>
<div class="d bl" style="left:386.35px;top:441.75px;transform:translate(-50%,-50%) scaleX(0.93);">284.9</div>
<div class="d" style="left:433.46px;top:441.75px;transform:translate(-50%,-50%) scaleX(0.93);">254.3</div>
<div class="d bl" style="left:480.57px;top:441.75px;transform:translate(-50%,-50%) scaleX(0.93);">142.2</div>
<div class="d" style="left:528.14px;top:441.75px;transform:translate(-50%,-50%) scaleX(0.93);">62.1</div>
<div class="d dm bl" style="left:595.35px;top:436.19px;transform:translate(-50%,-50%);">1240x 2520 x3160</div>
<div class="d dm" style="left:681.00px;top:436.19px;transform:translate(-50%,-50%);">48.8x 99.2x 124.4</div>
<div class="d dm bl" style="left:748.40px;top:436.19px;transform:translate(-50%,-50%);">4200</div>
<div class="d dm" style="left:797.60px;top:436.19px;transform:translate(-50%,-50%);">9259</div>
<div class="ty" style="left:12.20px;top:459.61px;transform:translateY(-50%) scaleX(0.9);">NGP 550</div>
<div class="d lb bl" style="left:95.80px;top:453.46px;transform:translate(-50%,-50%) scaleX(0.92);">FND scfm</div>
<div class="d" style="left:150.80px;top:453.46px;transform:translate(-50%,-50%) scaleX(0.93);">748.1</div>
<div class="d bl" style="left:197.91px;top:453.46px;transform:translate(-50%,-50%) scaleX(0.93);">592.6</div>
<div class="d" style="left:245.02px;top:453.46px;transform:translate(-50%,-50%) scaleX(0.93);">493.9</div>
<div class="d bl" style="left:292.13px;top:453.46px;transform:translate(-50%,-50%) scaleX(0.93);">413.0</div>
<div class="d" style="left:339.24px;top:453.46px;transform:translate(-50%,-50%) scaleX(0.93);">326.2</div>
<div class="d bl" style="left:386.35px;top:453.46px;transform:translate(-50%,-50%) scaleX(0.93);">227.5</div>
<div class="d" style="left:433.46px;top:453.46px;transform:translate(-50%,-50%) scaleX(0.93);">173.7</div>
<div class="d bl" style="left:480.57px;top:453.46px;transform:translate(-50%,-50%) scaleX(0.93);">115.0</div>
<div class="d" style="left:528.14px;top:453.46px;transform:translate(-50%,-50%) scaleX(0.93);">48.5</div>
<div class="d lb bl" style="left:95.80px;top:465.17px;transform:translate(-50%,-50%) scaleX(0.92);">FND Nm<sup>3</sup>/h</div>
<div class="d" style="left:150.80px;top:465.17px;transform:translate(-50%,-50%) scaleX(0.93);">1271.7</div>
<div class="d bl" style="left:197.91px;top:465.17px;transform:translate(-50%,-50%) scaleX(0.93);">1007.2</div>
<div class="d" style="left:245.02px;top:465.17px;transform:translate(-50%,-50%) scaleX(0.93);">839.3</div>
<div class="d bl" style="left:292.13px;top:465.17px;transform:translate(-50%,-50%) scaleX(0.93);">702.0</div>
<div class="d" style="left:339.24px;top:465.17px;transform:translate(-50%,-50%) scaleX(0.93);">554.5</div>
<div class="d bl" style="left:386.35px;top:465.17px;transform:translate(-50%,-50%) scaleX(0.93);">386.6</div>
<div class="d" style="left:433.46px;top:465.17px;transform:translate(-50%,-50%) scaleX(0.93);">360.1</div>
<div class="d bl" style="left:480.57px;top:465.17px;transform:translate(-50%,-50%) scaleX(0.93);">195.3</div>
<div class="d" style="left:528.14px;top:465.17px;transform:translate(-50%,-50%) scaleX(0.93);">82.4</div>
<div class="d dm bl" style="left:595.35px;top:459.61px;transform:translate(-50%,-50%);">1420x 2880x 3330</div>
<div class="d dm" style="left:681.00px;top:459.61px;transform:translate(-50%,-50%);">55.9x 113.4 x 131.1</div>
<div class="d dm bl" style="left:748.40px;top:459.61px;transform:translate(-50%,-50%);">4900</div>
<div class="d dm" style="left:797.60px;top:459.61px;transform:translate(-50%,-50%);">10803</div>
<div class="ty" style="left:12.20px;top:483.03px;transform:translateY(-50%) scaleX(0.9);">NGP 900</div>
<div class="d lb bl" style="left:95.80px;top:476.88px;transform:translate(-50%,-50%) scaleX(0.92);">FND scfm</div>
<div class="d" style="left:150.80px;top:476.88px;transform:translate(-50%,-50%) scaleX(0.93);">1167.2</div>
<div class="d bl" style="left:197.91px;top:476.88px;transform:translate(-50%,-50%) scaleX(0.93);">868.0</div>
<div class="d" style="left:245.02px;top:476.88px;transform:translate(-50%,-50%) scaleX(0.93);">748.3</div>
<div class="d bl" style="left:292.13px;top:476.88px;transform:translate(-50%,-50%) scaleX(0.93);">628.4</div>
<div class="d" style="left:339.24px;top:476.88px;transform:translate(-50%,-50%) scaleX(0.93);">538.6</div>
<div class="d bl" style="left:386.35px;top:476.88px;transform:translate(-50%,-50%) scaleX(0.93);">347.1</div>
<div class="d" style="left:433.46px;top:476.88px;transform:translate(-50%,-50%) scaleX(0.93);">257.3</div>
<div class="d bl" style="left:480.57px;top:476.88px;transform:translate(-50%,-50%) scaleX(0.93);">179.6</div>
<div class="d" style="left:528.14px;top:476.88px;transform:translate(-50%,-50%) scaleX(0.93);">73.1</div>
<div class="d lb bl" style="left:95.80px;top:488.59px;transform:translate(-50%,-50%) scaleX(0.92);">FND Nm<sup>3</sup>/h</div>
<div class="d" style="left:150.80px;top:488.59px;transform:translate(-50%,-50%) scaleX(0.93);">1983.9</div>
<div class="d bl" style="left:197.91px;top:488.59px;transform:translate(-50%,-50%) scaleX(0.93);">1475.2</div>
<div class="d" style="left:245.02px;top:488.59px;transform:translate(-50%,-50%) scaleX(0.93);">1271.7</div>
<div class="d bl" style="left:292.13px;top:488.59px;transform:translate(-50%,-50%) scaleX(0.93);">1068.2</div>
<div class="d" style="left:339.24px;top:488.59px;transform:translate(-50%,-50%) scaleX(0.93);">915.6</div>
<div class="d bl" style="left:386.35px;top:488.59px;transform:translate(-50%,-50%) scaleX(0.93);">590.1</div>
<div class="d" style="left:433.46px;top:488.59px;transform:translate(-50%,-50%) scaleX(0.93);">534.1</div>
<div class="d bl" style="left:480.57px;top:488.59px;transform:translate(-50%,-50%) scaleX(0.93);">305.2</div>
<div class="d" style="left:528.14px;top:488.59px;transform:translate(-50%,-50%) scaleX(0.93);">124.1</div>
<div class="d dm bl" style="left:595.35px;top:483.03px;transform:translate(-50%,-50%);">2480x 2520x 3160</div>
<div class="d dm" style="left:681.00px;top:483.03px;transform:translate(-50%,-50%);">97.6x 99.2 x 124.4</div>
<div class="d dm bl" style="left:748.40px;top:483.03px;transform:translate(-50%,-50%);">8400</div>
<div class="d dm" style="left:797.60px;top:483.03px;transform:translate(-50%,-50%);">18519</div>
<div class="ty" style="left:12.20px;top:506.45px;transform:translateY(-50%) scaleX(0.9);">NGP 1100</div>
<div class="d lb bl" style="left:95.80px;top:500.30px;transform:translate(-50%,-50%) scaleX(0.92);">FND scfm</div>
<div class="d" style="left:150.80px;top:500.30px;transform:translate(-50%,-50%) scaleX(0.93);">1556.3</div>
<div class="d bl" style="left:197.91px;top:500.30px;transform:translate(-50%,-50%) scaleX(0.93);">1197.1</div>
<div class="d" style="left:245.02px;top:500.30px;transform:translate(-50%,-50%) scaleX(0.93);">957.8</div>
<div class="d bl" style="left:292.13px;top:500.30px;transform:translate(-50%,-50%) scaleX(0.93);">808.0</div>
<div class="d" style="left:339.24px;top:500.30px;transform:translate(-50%,-50%) scaleX(0.93);">658.5</div>
<div class="d bl" style="left:386.35px;top:500.30px;transform:translate(-50%,-50%) scaleX(0.93);">418.9</div>
<div class="d" style="left:433.46px;top:500.30px;transform:translate(-50%,-50%) scaleX(0.93);">305.2</div>
<div class="d bl" style="left:480.57px;top:500.30px;transform:translate(-50%,-50%) scaleX(0.93);">227.5</div>
<div class="d" style="left:528.14px;top:500.30px;transform:translate(-50%,-50%) scaleX(0.93);">77.7</div>
<div class="d lb bl" style="left:95.80px;top:512.00px;transform:translate(-50%,-50%) scaleX(0.92);">FND Nm<sup>3</sup>/h</div>
<div class="d" style="left:150.80px;top:512.00px;transform:translate(-50%,-50%) scaleX(0.93);">2645.1</div>
<div class="d bl" style="left:197.91px;top:512.00px;transform:translate(-50%,-50%) scaleX(0.93);">2034.7</div>
<div class="d" style="left:245.02px;top:512.00px;transform:translate(-50%,-50%) scaleX(0.93);">1627.8</div>
<div class="d bl" style="left:292.13px;top:512.00px;transform:translate(-50%,-50%) scaleX(0.93);">1373.4</div>
<div class="d" style="left:339.24px;top:512.00px;transform:translate(-50%,-50%) scaleX(0.93);">1119.1</div>
<div class="d bl" style="left:386.35px;top:512.00px;transform:translate(-50%,-50%) scaleX(0.93);">712.2</div>
<div class="d" style="left:433.46px;top:512.00px;transform:translate(-50%,-50%) scaleX(0.93);">632.8</div>
<div class="d bl" style="left:480.57px;top:512.00px;transform:translate(-50%,-50%) scaleX(0.93);">386.6</div>
<div class="d" style="left:528.14px;top:512.00px;transform:translate(-50%,-50%) scaleX(0.93);">132.3</div>
<div class="d dm bl" style="left:595.35px;top:506.45px;transform:translate(-50%,-50%);">2840x 2880x 3330</div>
<div class="d dm" style="left:681.00px;top:506.45px;transform:translate(-50%,-50%);">111.8x 113.4 x 131.1</div>
<div class="d dm bl" style="left:748.40px;top:506.45px;transform:translate(-50%,-50%);">9800</div>
<div class="d dm" style="left:797.60px;top:506.45px;transform:translate(-50%,-50%);">21605</div>
<div class="title" style="left:10px;top:530.8px;letter-spacing:-0.12px;">Technical specifications OGP series</div>
<div class="b" style="left:11px;top:560px;width:810px;height:36px;background:#c6c8cb;"></div>
<div class="b" style="left:11px;top:560px;width:52px;height:36px;background:#4b4e53;"></div>
<div class="h" style="left:36.90px;top:578.75px;transform:translate(-50%,-50%);font-size:9.2px;letter-spacing:0.1px">TYPE</div>
<div class="b" style="left:65px;top:560px;width:377px;height:17px;background:#4b4e53;"></div>
<div class="h" style="left:253.28px;top:570.45px;transform:translate(-50%,-50%);font-size:9.5px;letter-spacing:-0.05px">Oxygen purity FOD (Free Oxygen Delivery)</div>
<div class="b" style="left:444px;top:560px;width:187px;height:17px;background:#4b4e53;"></div>
<div class="h" style="left:537.23px;top:570.45px;transform:translate(-50%,-50%);font-size:9.5px;letter-spacing:-0.05px">Dimensions (W x D x H)</div>
<div class="b" style="left:633px;top:560px;width:188px;height:17px;background:#4b4e53;"></div>
<div class="h" style="left:727.05px;top:570.45px;transform:translate(-50%,-50%);font-size:9.5px;letter-spacing:-0.05px">Weight</div>
<div class="b" style="left:65px;top:579px;width:93px;height:17px;background:#4b4e53;"></div>
<div class="b" style="left:160px;top:579px;width:92px;height:17px;background:#4b4e53;"></div>
<div class="h" style="left:206.20px;top:588.60px;transform:translate(-50%,-50%);font-size:9.5px;letter-spacing:-0.05px">90%</div>
<div class="b" style="left:255px;top:579px;width:92px;height:17px;background:#4b4e53;"></div>
<div class="h" style="left:300.78px;top:588.60px;transform:translate(-50%,-50%);font-size:9.5px;letter-spacing:-0.05px">93%</div>
<div class="b" style="left:349px;top:579px;width:93px;height:17px;background:#4b4e53;"></div>
<div class="h" style="left:395.36px;top:588.60px;transform:translate(-50%,-50%);font-size:9.5px;letter-spacing:-0.05px">95%</div>
<div class="b" style="left:444px;top:579px;width:92px;height:17px;background:#4b4e53;"></div>
<div class="h" style="left:489.94px;top:588.60px;transform:translate(-50%,-50%);font-size:9.5px;letter-spacing:-0.05px">mm</div>
<div class="b" style="left:538px;top:579px;width:93px;height:17px;background:#4b4e53;"></div>
<div class="h" style="left:584.52px;top:588.60px;transform:translate(-50%,-50%);font-size:9.5px;letter-spacing:-0.05px">in</div>
<div class="b" style="left:633px;top:579px;width:92px;height:17px;background:#4b4e53;"></div>
<div class="h" style="left:679.10px;top:588.60px;transform:translate(-50%,-50%);font-size:9.5px;letter-spacing:-0.05px">kg</div>
<div class="b" style="left:727px;top:579px;width:94px;height:17px;background:#4b4e53;"></div>
<div class="h" style="left:774.34px;top:588.60px;transform:translate(-50%,-50%);font-size:9.5px;letter-spacing:-0.05px">lbs</div>
<div class="b" style="left:65px;top:596px;width:94px;height:496px;background:#69c5e1;"></div>
<div class="b" style="left:255px;top:596px;width:93px;height:496px;background:#69c5e1;"></div>
<div class="b" style="left:444px;top:596px;width:93px;height:496px;background:#69c5e1;"></div>
<div class="b" style="left:633px;top:596px;width:93px;height:496px;background:#69c5e1;"></div>
<div class="b" style="left:65px;top:608px;width:94px;height:1px;background:#93d5eb;"></div>
<div class="b" style="left:159px;top:608px;width:96px;height:1px;background:#b3d6e2;"></div>
<div class="b" style="left:255px;top:608px;width:93px;height:1px;background:#93d5eb;"></div>
<div class="b" style="left:348px;top:608px;width:96px;height:1px;background:#b3d6e2;"></div>
<div class="b" style="left:11px;top:620px;width:54px;height:1px;background:#addaea;"></div>
<div class="b" style="left:11px;top:621px;width:54px;height:1px;background:#d9edf5;"></div>
<div class="b" style="left:159px;top:620px;width:96px;height:1px;background:#b3d6e2;"></div>
<div class="b" style="left:255px;top:620px;width:93px;height:1px;background:#93d5eb;"></div>
<div class="b" style="left:348px;top:620px;width:96px;height:1px;background:#b3d6e2;"></div>
<div class="b" style="left:444px;top:620px;width:93px;height:1px;background:#93d5eb;"></div>
<div class="b" style="left:537px;top:620px;width:96px;height:1px;background:#b3d6e2;"></div>
<div class="b" style="left:633px;top:620px;width:93px;height:1px;background:#93d5eb;"></div>
<div class="b" style="left:726px;top:620px;width:95px;height:1px;background:#b3d6e2;"></div>
<div class="b" style="left:65px;top:633px;width:94px;height:1px;background:#93d5eb;"></div>
<div class="b" style="left:159px;top:633px;width:96px;height:1px;background:#b3d6e2;"></div>
<div class="b" style="left:255px;top:633px;width:93px;height:1px;background:#93d5eb;"></div>
<div class="b" style="left:348px;top:633px;width:96px;height:1px;background:#b3d6e2;"></div>
<div class="b" style="left:11px;top:645px;width:54px;height:1px;background:#addaea;"></div>
<div class="b" style="left:11px;top:646px;width:54px;height:1px;background:#d9edf5;"></div>
<div class="b" style="left:159px;top:645px;width:96px;height:1px;background:#b3d6e2;"></div>
<div class="b" style="left:255px;top:645px;width:93px;height:1px;background:#93d5eb;"></div>
<div class="b" style="left:348px;top:645px;width:96px;height:1px;background:#b3d6e2;"></div>
<div class="b" style="left:444px;top:645px;width:93px;height:1px;background:#93d5eb;"></div>
<div class="b" style="left:537px;top:645px;width:96px;height:1px;background:#b3d6e2;"></div>
<div class="b" style="left:633px;top:645px;width:93px;height:1px;background:#93d5eb;"></div>
<div class="b" style="left:726px;top:645px;width:95px;height:1px;background:#b3d6e2;"></div>
<div class="b" style="left:65px;top:658px;width:94px;height:1px;background:#93d5eb;"></div>
<div class="b" style="left:159px;top:658px;width:96px;height:1px;background:#b3d6e2;"></div>
<div class="b" style="left:255px;top:658px;width:93px;height:1px;background:#93d5eb;"></div>
<div class="b" style="left:348px;top:658px;width:96px;height:1px;background:#b3d6e2;"></div>
<div class="b" style="left:11px;top:670px;width:54px;height:1px;background:#addaea;"></div>
<div class="b" style="left:11px;top:671px;width:54px;height:1px;background:#d9edf5;"></div>
<div class="b" style="left:159px;top:670px;width:96px;height:1px;background:#b3d6e2;"></div>
<div class="b" style="left:255px;top:670px;width:93px;height:1px;background:#93d5eb;"></div>
<div class="b" style="left:348px;top:670px;width:96px;height:1px;background:#b3d6e2;"></div>
<div class="b" style="left:444px;top:670px;width:93px;height:1px;background:#93d5eb;"></div>
<div class="b" style="left:537px;top:670px;width:96px;height:1px;background:#b3d6e2;"></div>
<div class="b" style="left:633px;top:670px;width:93px;height:1px;background:#93d5eb;"></div>
<div class="b" style="left:726px;top:670px;width:95px;height:1px;background:#b3d6e2;"></div>
<div class="b" style="left:65px;top:682px;width:94px;height:1px;background:#93d5eb;"></div>
<div class="b" style="left:159px;top:682px;width:96px;height:1px;background:#b3d6e2;"></div>
<div class="b" style="left:255px;top:682px;width:93px;height:1px;background:#93d5eb;"></div>
<div class="b" style="left:348px;top:682px;width:96px;height:1px;background:#b3d6e2;"></div>
<div class="b" style="left:11px;top:695px;width:54px;height:1px;background:#addaea;"></div>
<div class="b" style="left:11px;top:696px;width:54px;height:1px;background:#d9edf5;"></div>
<div class="b" style="left:159px;top:695px;width:96px;height:1px;background:#b3d6e2;"></div>
<div class="b" style="left:255px;top:695px;width:93px;height:1px;background:#93d5eb;"></div>
<div class="b" style="left:348px;top:695px;width:96px;height:1px;background:#b3d6e2;"></div>
<div class="b" style="left:444px;top:695px;width:93px;height:1px;background:#93d5eb;"></div>
<div class="b" style="left:537px;top:695px;width:96px;height:1px;background:#b3d6e2;"></div>
<div class="b" style="left:633px;top:695px;width:93px;height:1px;background:#93d5eb;"></div>
<div class="b" style="left:726px;top:695px;width:95px;height:1px;background:#b3d6e2;"></div>
<div class="b" style="left:65px;top:707px;width:94px;height:1px;background:#93d5eb;"></div>
<div class="b" style="left:159px;top:707px;width:96px;height:1px;background:#b3d6e2;"></div>
<div class="b" style="left:255px;top:707px;width:93px;height:1px;background:#93d5eb;"></div>
<div class="b" style="left:348px;top:707px;width:96px;height:1px;background:#b3d6e2;"></div>
<div class="b" style="left:11px;top:720px;width:54px;height:1px;background:#addaea;"></div>
<div class="b" style="left:11px;top:721px;width:54px;height:1px;background:#d9edf5;"></div>
<div class="b" style="left:159px;top:720px;width:96px;height:1px;background:#b3d6e2;"></div>
<div class="b" style="left:255px;top:720px;width:93px;height:1px;background:#93d5eb;"></div>
<div class="b" style="left:348px;top:720px;width:96px;height:1px;background:#b3d6e2;"></div>
<div class="b" style="left:444px;top:720px;width:93px;height:1px;background:#93d5eb;"></div>
<div class="b" style="left:537px;top:720px;width:96px;height:1px;background:#b3d6e2;"></div>
<div class="b" style="left:633px;top:720px;width:93px;height:1px;background:#93d5eb;"></div>
<div class="b" style="left:726px;top:720px;width:95px;height:1px;background:#b3d6e2;"></div>
<div class="b" style="left:65px;top:732px;width:94px;height:1px;background:#93d5eb;"></div>
<div class="b" style="left:159px;top:732px;width:96px;height:1px;background:#b3d6e2;"></div>
<div class="b" style="left:255px;top:732px;width:93px;height:1px;background:#93d5eb;"></div>
<div class="b" style="left:348px;top:732px;width:96px;height:1px;background:#b3d6e2;"></div>
<div class="b" style="left:11px;top:744px;width:54px;height:1px;background:#addaea;"></div>
<div class="b" style="left:11px;top:745px;width:54px;height:1px;background:#d9edf5;"></div>
<div class="b" style="left:159px;top:744px;width:96px;height:1px;background:#b3d6e2;"></div>
<div class="b" style="left:255px;top:744px;width:93px;height:1px;background:#93d5eb;"></div>
<div class="b" style="left:348px;top:744px;width:96px;height:1px;background:#b3d6e2;"></div>
<div class="b" style="left:444px;top:744px;width:93px;height:1px;background:#93d5eb;"></div>
<div class="b" style="left:537px;top:744px;width:96px;height:1px;background:#b3d6e2;"></div>
<div class="b" style="left:633px;top:744px;width:93px;height:1px;background:#93d5eb;"></div>
<div class="b" style="left:726px;top:744px;width:95px;height:1px;background:#b3d6e2;"></div>
<div class="b" style="left:65px;top:757px;width:94px;height:1px;background:#93d5eb;"></div>
<div class="b" style="left:159px;top:757px;width:96px;height:1px;background:#b3d6e2;"></div>
<div class="b" style="left:255px;top:757px;width:93px;height:1px;background:#93d5eb;"></div>
<div class="b" style="left:348px;top:757px;width:96px;height:1px;background:#b3d6e2;"></div>
<div class="b" style="left:11px;top:769px;width:54px;height:1px;background:#addaea;"></div>
<div class="b" style="left:11px;top:770px;width:54px;height:1px;background:#d9edf5;"></div>
<div class="b" style="left:159px;top:769px;width:96px;height:1px;background:#b3d6e2;"></div>
<div class="b" style="left:255px;top:769px;width:93px;height:1px;background:#93d5eb;"></div>
<div class="b" style="left:348px;top:769px;width:96px;height:1px;background:#b3d6e2;"></div>
<div class="b" style="left:444px;top:769px;width:93px;height:1px;background:#93d5eb;"></div>
<div class="b" style="left:537px;top:769px;width:96px;height:1px;background:#b3d6e2;"></div>
<div class="b" style="left:633px;top:769px;width:93px;height:1px;background:#93d5eb;"></div>
<div class="b" style="left:726px;top:769px;width:95px;height:1px;background:#b3d6e2;"></div>
<div class="b" style="left:65px;top:782px;width:94px;height:1px;background:#93d5eb;"></div>
<div class="b" style="left:159px;top:782px;width:96px;height:1px;background:#b3d6e2;"></div>
<div class="b" style="left:255px;top:782px;width:93px;height:1px;background:#93d5eb;"></div>
<div class="b" style="left:348px;top:782px;width:96px;height:1px;background:#b3d6e2;"></div>
<div class="b" style="left:11px;top:794px;width:54px;height:1px;background:#addaea;"></div>
<div class="b" style="left:11px;top:795px;width:54px;height:1px;background:#d9edf5;"></div>
<div class="b" style="left:159px;top:794px;width:96px;height:1px;background:#b3d6e2;"></div>
<div class="b" style="left:255px;top:794px;width:93px;height:1px;background:#93d5eb;"></div>
<div class="b" style="left:348px;top:794px;width:96px;height:1px;background:#b3d6e2;"></div>
<div class="b" style="left:444px;top:794px;width:93px;height:1px;background:#93d5eb;"></div>
<div class="b" style="left:537px;top:794px;width:96px;height:1px;background:#b3d6e2;"></div>
<div class="b" style="left:633px;top:794px;width:93px;height:1px;background:#93d5eb;"></div>
<div class="b" style="left:726px;top:794px;width:95px;height:1px;background:#b3d6e2;"></div>
<div class="b" style="left:65px;top:806px;width:94px;height:1px;background:#93d5eb;"></div>
<div class="b" style="left:159px;top:806px;width:96px;height:1px;background:#b3d6e2;"></div>
<div class="b" style="left:255px;top:806px;width:93px;height:1px;background:#93d5eb;"></div>
<div class="b" style="left:348px;top:806px;width:96px;height:1px;background:#b3d6e2;"></div>
<div class="b" style="left:11px;top:819px;width:54px;height:1px;background:#addaea;"></div>
<div class="b" style="left:11px;top:820px;width:54px;height:1px;background:#d9edf5;"></div>
<div class="b" style="left:159px;top:819px;width:96px;height:1px;background:#b3d6e2;"></div>
<div class="b" style="left:255px;top:819px;width:93px;height:1px;background:#93d5eb;"></div>
<div class="b" style="left:348px;top:819px;width:96px;height:1px;background:#b3d6e2;"></div>
<div class="b" style="left:444px;top:819px;width:93px;height:1px;background:#93d5eb;"></div>
<div class="b" style="left:537px;top:819px;width:96px;height:1px;background:#b3d6e2;"></div>
<div class="b" style="left:633px;top:819px;width:93px;height:1px;background:#93d5eb;"></div>
<div class="b" style="left:726px;top:819px;width:95px;height:1px;background:#b3d6e2;"></div>
<div class="b" style="left:65px;top:831px;width:94px;height:1px;background:#93d5eb;"></div>
<div class="b" style="left:159px;top:831px;width:96px;height:1px;background:#b3d6e2;"></div>
<div class="b" style="left:255px;top:831px;width:93px;height:1px;background:#93d5eb;"></div>
<div class="b" style="left:348px;top:831px;width:96px;height:1px;background:#b3d6e2;"></div>
<div class="b" style="left:11px;top:844px;width:54px;height:1px;background:#addaea;"></div>
<div class="b" style="left:11px;top:845px;width:54px;height:1px;background:#d9edf5;"></div>
<div class="b" style="left:159px;top:844px;width:96px;height:1px;background:#b3d6e2;"></div>
<div class="b" style="left:255px;top:844px;width:93px;height:1px;background:#93d5eb;"></div>
<div class="b" style="left:348px;top:844px;width:96px;height:1px;background:#b3d6e2;"></div>
<div class="b" style="left:444px;top:844px;width:93px;height:1px;background:#93d5eb;"></div>
<div class="b" style="left:537px;top:844px;width:96px;height:1px;background:#b3d6e2;"></div>
<div class="b" style="left:633px;top:844px;width:93px;height:1px;background:#93d5eb;"></div>
<div class="b" style="left:726px;top:844px;width:95px;height:1px;background:#b3d6e2;"></div>
<div class="b" style="left:65px;top:856px;width:94px;height:1px;background:#93d5eb;"></div>
<div class="b" style="left:159px;top:856px;width:96px;height:1px;background:#b3d6e2;"></div>
<div class="b" style="left:255px;top:856px;width:93px;height:1px;background:#93d5eb;"></div>
<div class="b" style="left:348px;top:856px;width:96px;height:1px;background:#b3d6e2;"></div>
<div class="b" style="left:11px;top:868px;width:54px;height:1px;background:#addaea;"></div>
<div class="b" style="left:11px;top:869px;width:54px;height:1px;background:#d9edf5;"></div>
<div class="b" style="left:159px;top:868px;width:96px;height:1px;background:#b3d6e2;"></div>
<div class="b" style="left:255px;top:868px;width:93px;height:1px;background:#93d5eb;"></div>
<div class="b" style="left:348px;top:868px;width:96px;height:1px;background:#b3d6e2;"></div>
<div class="b" style="left:444px;top:868px;width:93px;height:1px;background:#93d5eb;"></div>
<div class="b" style="left:537px;top:868px;width:96px;height:1px;background:#b3d6e2;"></div>
<div class="b" style="left:633px;top:868px;width:93px;height:1px;background:#93d5eb;"></div>
<div class="b" style="left:726px;top:868px;width:95px;height:1px;background:#b3d6e2;"></div>
<div class="b" style="left:65px;top:881px;width:94px;height:1px;background:#93d5eb;"></div>
<div class="b" style="left:159px;top:881px;width:96px;height:1px;background:#b3d6e2;"></div>
<div class="b" style="left:255px;top:881px;width:93px;height:1px;background:#93d5eb;"></div>
<div class="b" style="left:348px;top:881px;width:96px;height:1px;background:#b3d6e2;"></div>
<div class="b" style="left:11px;top:893px;width:54px;height:1px;background:#addaea;"></div>
<div class="b" style="left:11px;top:894px;width:54px;height:1px;background:#d9edf5;"></div>
<div class="b" style="left:159px;top:893px;width:96px;height:1px;background:#b3d6e2;"></div>
<div class="b" style="left:255px;top:893px;width:93px;height:1px;background:#93d5eb;"></div>
<div class="b" style="left:348px;top:893px;width:96px;height:1px;background:#b3d6e2;"></div>
<div class="b" style="left:444px;top:893px;width:93px;height:1px;background:#93d5eb;"></div>
<div class="b" style="left:537px;top:893px;width:96px;height:1px;background:#b3d6e2;"></div>
<div class="b" style="left:633px;top:893px;width:93px;height:1px;background:#93d5eb;"></div>
<div class="b" style="left:726px;top:893px;width:95px;height:1px;background:#b3d6e2;"></div>
<div class="b" style="left:65px;top:906px;width:94px;height:1px;background:#93d5eb;"></div>
<div class="b" style="left:159px;top:906px;width:96px;height:1px;background:#b3d6e2;"></div>
<div class="b" style="left:255px;top:906px;width:93px;height:1px;background:#93d5eb;"></div>
<div class="b" style="left:348px;top:906px;width:96px;height:1px;background:#b3d6e2;"></div>
<div class="b" style="left:11px;top:918px;width:54px;height:1px;background:#addaea;"></div>
<div class="b" style="left:11px;top:919px;width:54px;height:1px;background:#d9edf5;"></div>
<div class="b" style="left:159px;top:918px;width:96px;height:1px;background:#b3d6e2;"></div>
<div class="b" style="left:255px;top:918px;width:93px;height:1px;background:#93d5eb;"></div>
<div class="b" style="left:348px;top:918px;width:96px;height:1px;background:#b3d6e2;"></div>
<div class="b" style="left:444px;top:918px;width:93px;height:1px;background:#93d5eb;"></div>
<div class="b" style="left:537px;top:918px;width:96px;height:1px;background:#b3d6e2;"></div>
<div class="b" style="left:633px;top:918px;width:93px;height:1px;background:#93d5eb;"></div>
<div class="b" style="left:726px;top:918px;width:95px;height:1px;background:#b3d6e2;"></div>
<div class="b" style="left:65px;top:930px;width:94px;height:1px;background:#93d5eb;"></div>
<div class="b" style="left:159px;top:930px;width:96px;height:1px;background:#b3d6e2;"></div>
<div class="b" style="left:255px;top:930px;width:93px;height:1px;background:#93d5eb;"></div>
<div class="b" style="left:348px;top:930px;width:96px;height:1px;background:#b3d6e2;"></div>
<div class="b" style="left:11px;top:943px;width:54px;height:1px;background:#addaea;"></div>
<div class="b" style="left:11px;top:944px;width:54px;height:1px;background:#d9edf5;"></div>
<div class="b" style="left:159px;top:943px;width:96px;height:1px;background:#b3d6e2;"></div>
<div class="b" style="left:255px;top:943px;width:93px;height:1px;background:#93d5eb;"></div>
<div class="b" style="left:348px;top:943px;width:96px;height:1px;background:#b3d6e2;"></div>
<div class="b" style="left:444px;top:943px;width:93px;height:1px;background:#93d5eb;"></div>
<div class="b" style="left:537px;top:943px;width:96px;height:1px;background:#b3d6e2;"></div>
<div class="b" style="left:633px;top:943px;width:93px;height:1px;background:#93d5eb;"></div>
<div class="b" style="left:726px;top:943px;width:95px;height:1px;background:#b3d6e2;"></div>
<div class="b" style="left:65px;top:955px;width:94px;height:1px;background:#93d5eb;"></div>
<div class="b" style="left:159px;top:955px;width:96px;height:1px;background:#b3d6e2;"></div>
<div class="b" style="left:255px;top:955px;width:93px;height:1px;background:#93d5eb;"></div>
<div class="b" style="left:348px;top:955px;width:96px;height:1px;background:#b3d6e2;"></div>
<div class="b" style="left:11px;top:968px;width:54px;height:1px;background:#addaea;"></div>
<div class="b" style="left:11px;top:969px;width:54px;height:1px;background:#d9edf5;"></div>
<div class="b" style="left:159px;top:968px;width:96px;height:1px;background:#b3d6e2;"></div>
<div class="b" style="left:255px;top:968px;width:93px;height:1px;background:#93d5eb;"></div>
<div class="b" style="left:348px;top:968px;width:96px;height:1px;background:#b3d6e2;"></div>
<div class="b" style="left:444px;top:968px;width:93px;height:1px;background:#93d5eb;"></div>
<div class="b" style="left:537px;top:968px;width:96px;height:1px;background:#b3d6e2;"></div>
<div class="b" style="left:633px;top:968px;width:93px;height:1px;background:#93d5eb;"></div>
<div class="b" style="left:726px;top:968px;width:95px;height:1px;background:#b3d6e2;"></div>
<div class="b" style="left:65px;top:980px;width:94px;height:1px;background:#93d5eb;"></div>
<div class="b" style="left:159px;top:980px;width:96px;height:1px;background:#b3d6e2;"></div>
<div class="b" style="left:255px;top:980px;width:93px;height:1px;background:#93d5eb;"></div>
<div class="b" style="left:348px;top:980px;width:96px;height:1px;background:#b3d6e2;"></div>
<div class="b" style="left:11px;top:992px;width:54px;height:1px;background:#addaea;"></div>
<div class="b" style="left:11px;top:993px;width:54px;height:1px;background:#d9edf5;"></div>
<div class="b" style="left:159px;top:992px;width:96px;height:1px;background:#b3d6e2;"></div>
<div class="b" style="left:255px;top:992px;width:93px;height:1px;background:#93d5eb;"></div>
<div class="b" style="left:348px;top:992px;width:96px;height:1px;background:#b3d6e2;"></div>
<div class="b" style="left:444px;top:992px;width:93px;height:1px;background:#93d5eb;"></div>
<div class="b" style="left:537px;top:992px;width:96px;height:1px;background:#b3d6e2;"></div>
<div class="b" style="left:633px;top:992px;width:93px;height:1px;background:#93d5eb;"></div>
<div class="b" style="left:726px;top:992px;width:95px;height:1px;background:#b3d6e2;"></div>
<div class="b" style="left:65px;top:1005px;width:94px;height:1px;background:#93d5eb;"></div>
<div class="b" style="left:159px;top:1005px;width:96px;height:1px;background:#b3d6e2;"></div>
<div class="b" style="left:255px;top:1005px;width:93px;height:1px;background:#93d5eb;"></div>
<div class="b" style="left:348px;top:1005px;width:96px;height:1px;background:#b3d6e2;"></div>
<div class="b" style="left:11px;top:1017px;width:54px;height:1px;background:#addaea;"></div>
<div class="b" style="left:11px;top:1018px;width:54px;height:1px;background:#d9edf5;"></div>
<div class="b" style="left:159px;top:1017px;width:96px;height:1px;background:#b3d6e2;"></div>
<div class="b" style="left:255px;top:1017px;width:93px;height:1px;background:#93d5eb;"></div>
<div class="b" style="left:348px;top:1017px;width:96px;height:1px;background:#b3d6e2;"></div>
<div class="b" style="left:444px;top:1017px;width:93px;height:1px;background:#93d5eb;"></div>
<div class="b" style="left:537px;top:1017px;width:96px;height:1px;background:#b3d6e2;"></div>
<div class="b" style="left:633px;top:1017px;width:93px;height:1px;background:#93d5eb;"></div>
<div class="b" style="left:726px;top:1017px;width:95px;height:1px;background:#b3d6e2;"></div>
<div class="b" style="left:65px;top:1030px;width:94px;height:1px;background:#93d5eb;"></div>
<div class="b" style="left:159px;top:1030px;width:96px;height:1px;background:#b3d6e2;"></div>
<div class="b" style="left:255px;top:1030px;width:93px;height:1px;background:#93d5eb;"></div>
<div class="b" style="left:348px;top:1030px;width:96px;height:1px;background:#b3d6e2;"></div>
<div class="b" style="left:11px;top:1042px;width:54px;height:1px;background:#addaea;"></div>
<div class="b" style="left:11px;top:1043px;width:54px;height:1px;background:#d9edf5;"></div>
<div class="b" style="left:159px;top:1042px;width:96px;height:1px;background:#b3d6e2;"></div>
<div class="b" style="left:255px;top:1042px;width:93px;height:1px;background:#93d5eb;"></div>
<div class="b" style="left:348px;top:1042px;width:96px;height:1px;background:#b3d6e2;"></div>
<div class="b" style="left:444px;top:1042px;width:93px;height:1px;background:#93d5eb;"></div>
<div class="b" style="left:537px;top:1042px;width:96px;height:1px;background:#b3d6e2;"></div>
<div class="b" style="left:633px;top:1042px;width:93px;height:1px;background:#93d5eb;"></div>
<div class="b" style="left:726px;top:1042px;width:95px;height:1px;background:#b3d6e2;"></div>
<div class="b" style="left:65px;top:1054px;width:94px;height:1px;background:#93d5eb;"></div>
<div class="b" style="left:159px;top:1054px;width:96px;height:1px;background:#b3d6e2;"></div>
<div class="b" style="left:255px;top:1054px;width:93px;height:1px;background:#93d5eb;"></div>
<div class="b" style="left:348px;top:1054px;width:96px;height:1px;background:#b3d6e2;"></div>
<div class="b" style="left:11px;top:1067px;width:54px;height:1px;background:#addaea;"></div>
<div class="b" style="left:11px;top:1068px;width:54px;height:1px;background:#d9edf5;"></div>
<div class="b" style="left:159px;top:1067px;width:96px;height:1px;background:#b3d6e2;"></div>
<div class="b" style="left:255px;top:1067px;width:93px;height:1px;background:#93d5eb;"></div>
<div class="b" style="left:348px;top:1067px;width:96px;height:1px;background:#b3d6e2;"></div>
<div class="b" style="left:444px;top:1067px;width:93px;height:1px;background:#93d5eb;"></div>
<div class="b" style="left:537px;top:1067px;width:96px;height:1px;background:#b3d6e2;"></div>
<div class="b" style="left:633px;top:1067px;width:93px;height:1px;background:#93d5eb;"></div>
<div class="b" style="left:726px;top:1067px;width:95px;height:1px;background:#b3d6e2;"></div>
<div class="b" style="left:65px;top:1079px;width:94px;height:1px;background:#93d5eb;"></div>
<div class="b" style="left:159px;top:1079px;width:96px;height:1px;background:#b3d6e2;"></div>
<div class="b" style="left:255px;top:1079px;width:93px;height:1px;background:#93d5eb;"></div>
<div class="b" style="left:348px;top:1079px;width:96px;height:1px;background:#b3d6e2;"></div>
<div class="b" style="left:11px;top:1092px;width:54px;height:1px;background:#addaea;"></div>
<div class="b" style="left:11px;top:1093px;width:54px;height:1px;background:#d9edf5;"></div>
<div class="b" style="left:159px;top:1092px;width:96px;height:1px;background:#b3d6e2;"></div>
<div class="b" style="left:348px;top:1092px;width:96px;height:1px;background:#b3d6e2;"></div>
<div class="b" style="left:537px;top:1092px;width:96px;height:1px;background:#b3d6e2;"></div>
<div class="b" style="left:726px;top:1092px;width:95px;height:1px;background:#b3d6e2;"></div>
<div class="ty" style="left:11.80px;top:609.00px;transform:translateY(-50%) scaleX(0.9);">OGP 2</div>
<div class="d lb bl" style="left:111.50px;top:603.20px;transform:translate(-50%,-50%) scaleX(0.92);">FOD Nm<sup>3</sup>/h</div>
<div class="d" style="left:205.90px;top:602.50px;transform:translate(-50%,-50%) scaleX(0.93);">2.1</div>
<div class="d bl" style="left:300.48px;top:602.50px;transform:translate(-50%,-50%) scaleX(0.93);">1.6</div>
<div class="d" style="left:395.06px;top:602.50px;transform:translate(-50%,-50%) scaleX(0.93);">1.5</div>
<div class="d lb bl" style="left:111.50px;top:615.60px;transform:translate(-50%,-50%) scaleX(0.92);">FOD scfm</div>
<div class="d" style="left:205.90px;top:614.90px;transform:translate(-50%,-50%) scaleX(0.93);">1.3</div>
<div class="d bl" style="left:300.48px;top:614.90px;transform:translate(-50%,-50%) scaleX(0.93);">1.1</div>
<div class="d" style="left:395.06px;top:614.90px;transform:translate(-50%,-50%) scaleX(0.93);">0.8</div>
<div class="d dm bl" style="left:489.94px;top:608.70px;transform:translate(-50%,-50%);">600x 600x 1550</div>
<div class="d dm" style="left:584.52px;top:608.70px;transform:translate(-50%,-50%);">23.6 x23.6x 61.0</div>
<div class="d dm bl" style="left:679.10px;top:608.70px;transform:translate(-50%,-50%);">100</div>
<div class="d dm" style="left:774.34px;top:608.70px;transform:translate(-50%,-50%);">220</div>
<div class="ty" style="left:11.80px;top:633.80px;transform:translateY(-50%) scaleX(0.9);">OGP 3</div>
<div class="d lb bl" style="left:111.50px;top:628.00px;transform:translate(-50%,-50%) scaleX(0.92);">FOD Nm<sup>3</sup>/h</div>
<div class="d" style="left:205.90px;top:627.30px;transform:translate(-50%,-50%) scaleX(0.93);">3.2</div>
<div class="d bl" style="left:300.48px;top:627.30px;transform:translate(-50%,-50%) scaleX(0.93);">2.5</div>
<div class="d" style="left:395.06px;top:627.30px;transform:translate(-50%,-50%) scaleX(0.93);">2.5</div>
<div class="d lb bl" style="left:111.50px;top:640.40px;transform:translate(-50%,-50%) scaleX(0.92);">FOD scfm</div>
<div class="d" style="left:205.90px;top:639.70px;transform:translate(-50%,-50%) scaleX(0.93);">1.9</div>
<div class="d bl" style="left:300.48px;top:639.70px;transform:translate(-50%,-50%) scaleX(0.93);">1.5</div>
<div class="d" style="left:395.06px;top:639.70px;transform:translate(-50%,-50%) scaleX(0.93);">1.5</div>
<div class="d dm bl" style="left:489.94px;top:633.50px;transform:translate(-50%,-50%);">600x 600x 1600</div>
<div class="d dm" style="left:584.52px;top:633.50px;transform:translate(-50%,-50%);">23.6 x23.6x 63.0</div>
<div class="d dm bl" style="left:679.10px;top:633.50px;transform:translate(-50%,-50%);">150</div>
<div class="d dm" style="left:774.34px;top:633.50px;transform:translate(-50%,-50%);">331</div>
<div class="ty" style="left:11.80px;top:658.60px;transform:translateY(-50%) scaleX(0.9);">OGP 4</div>
<div class="d lb bl" style="left:111.50px;top:652.80px;transform:translate(-50%,-50%) scaleX(0.92);">FOD Nm<sup>3</sup>/h</div>
<div class="d" style="left:205.90px;top:652.10px;transform:translate(-50%,-50%) scaleX(0.93);">4.0</div>
<div class="d bl" style="left:300.48px;top:652.10px;transform:translate(-50%,-50%) scaleX(0.93);">3.6</div>
<div class="d" style="left:395.06px;top:652.10px;transform:translate(-50%,-50%) scaleX(0.93);">3.2</div>
<div class="d lb bl" style="left:111.50px;top:665.20px;transform:translate(-50%,-50%) scaleX(0.92);">FOD scfm</div>
<div class="d" style="left:205.90px;top:664.50px;transform:translate(-50%,-50%) scaleX(0.93);">2.3</div>
<div class="d bl" style="left:300.48px;top:664.50px;transform:translate(-50%,-50%) scaleX(0.93);">2.1</div>
<div class="d" style="left:395.06px;top:664.50px;transform:translate(-50%,-50%) scaleX(0.93);">1.9</div>
<div class="d dm bl" style="left:489.94px;top:658.30px;transform:translate(-50%,-50%);">600x 600x 1650</div>
<div class="d dm" style="left:584.52px;top:658.30px;transform:translate(-50%,-50%);">23.6 x23.6x 65.0</div>
<div class="d dm bl" style="left:679.10px;top:658.30px;transform:translate(-50%,-50%);">180</div>
<div class="d dm" style="left:774.34px;top:658.30px;transform:translate(-50%,-50%);">397</div>
<div class="ty" style="left:11.80px;top:683.40px;transform:translateY(-50%) scaleX(0.9);">OGP 5</div>
<div class="d lb bl" style="left:111.50px;top:677.60px;transform:translate(-50%,-50%) scaleX(0.92);">FOD Nm<sup>3</sup>/h</div>
<div class="d" style="left:205.90px;top:676.90px;transform:translate(-50%,-50%) scaleX(0.93);">4.7</div>
<div class="d bl" style="left:300.48px;top:676.90px;transform:translate(-50%,-50%) scaleX(0.93);">4.3</div>
<div class="d" style="left:395.06px;top:676.90px;transform:translate(-50%,-50%) scaleX(0.93);">4.0</div>
<div class="d lb bl" style="left:111.50px;top:690.00px;transform:translate(-50%,-50%) scaleX(0.92);">FOD scfm</div>
<div class="d" style="left:205.90px;top:689.30px;transform:translate(-50%,-50%) scaleX(0.93);">2.8</div>
<div class="d bl" style="left:300.48px;top:689.30px;transform:translate(-50%,-50%) scaleX(0.93);">2.5</div>
<div class="d" style="left:395.06px;top:689.30px;transform:translate(-50%,-50%) scaleX(0.93);">2.3</div>
<div class="d dm bl" style="left:489.94px;top:683.10px;transform:translate(-50%,-50%);">700x 700x 1900</div>
<div class="d dm" style="left:584.52px;top:683.10px;transform:translate(-50%,-50%);">27.6 x27.6x 74.8</div>
<div class="d dm bl" style="left:679.10px;top:683.10px;transform:translate(-50%,-50%);">230</div>
<div class="d dm" style="left:774.34px;top:683.10px;transform:translate(-50%,-50%);">507</div>
<div class="ty" style="left:11.80px;top:708.20px;transform:translateY(-50%) scaleX(0.9);">OPG 6</div>
<div class="d lb bl" style="left:111.50px;top:702.40px;transform:translate(-50%,-50%) scaleX(0.92);">FOD Nm<sup>3</sup>/h</div>
<div class="d" style="left:205.90px;top:701.70px;transform:translate(-50%,-50%) scaleX(0.93);">6.5</div>
<div class="d bl" style="left:300.48px;top:701.70px;transform:translate(-50%,-50%) scaleX(0.93);">5.8</div>
<div class="d" style="left:395.06px;top:701.70px;transform:translate(-50%,-50%) scaleX(0.93);">5.4</div>
<div class="d lb bl" style="left:111.50px;top:714.80px;transform:translate(-50%,-50%) scaleX(0.92);">FOD scfm</div>
<div class="d" style="left:205.90px;top:714.10px;transform:translate(-50%,-50%) scaleX(0.93);">3.8</div>
<div class="d bl" style="left:300.48px;top:714.10px;transform:translate(-50%,-50%) scaleX(0.93);">3.4</div>
<div class="d" style="left:395.06px;top:714.10px;transform:translate(-50%,-50%) scaleX(0.93);">3.2</div>
<div class="d dm bl" style="left:489.94px;top:707.90px;transform:translate(-50%,-50%);">800 x 900x 1750</div>
<div class="d dm" style="left:584.52px;top:707.90px;transform:translate(-50%,-50%);">31.5 x35.4x 68.9</div>
<div class="d dm bl" style="left:679.10px;top:707.90px;transform:translate(-50%,-50%);">400</div>
<div class="d dm" style="left:774.34px;top:707.90px;transform:translate(-50%,-50%);">882</div>
<div class="ty" style="left:11.80px;top:733.00px;transform:translateY(-50%) scaleX(0.9);">OGP 8</div>
<div class="d lb bl" style="left:111.50px;top:727.20px;transform:translate(-50%,-50%) scaleX(0.92);">FOD Nm<sup>3</sup>/h</div>
<div class="d" style="left:205.90px;top:726.50px;transform:translate(-50%,-50%) scaleX(0.93);">7.9</div>
<div class="d bl" style="left:300.48px;top:726.50px;transform:translate(-50%,-50%) scaleX(0.93);">7.2</div>
<div class="d" style="left:395.06px;top:726.50px;transform:translate(-50%,-50%) scaleX(0.93);">6.8</div>
<div class="d lb bl" style="left:111.50px;top:739.60px;transform:translate(-50%,-50%) scaleX(0.92);">FOD scfm</div>
<div class="d" style="left:205.90px;top:738.90px;transform:translate(-50%,-50%) scaleX(0.93);">4.7</div>
<div class="d bl" style="left:300.48px;top:738.90px;transform:translate(-50%,-50%) scaleX(0.93);">4.2</div>
<div class="d" style="left:395.06px;top:738.90px;transform:translate(-50%,-50%) scaleX(0.93);">4.0</div>
<div class="d dm bl" style="left:489.94px;top:732.70px;transform:translate(-50%,-50%);">800 x 900x 1750</div>
<div class="d dm" style="left:584.52px;top:732.70px;transform:translate(-50%,-50%);">31.5 x35.4x 68.9</div>
<div class="d dm bl" style="left:679.10px;top:732.70px;transform:translate(-50%,-50%);">700</div>
<div class="d dm" style="left:774.34px;top:732.70px;transform:translate(-50%,-50%);">1543</div>
<div class="ty" style="left:11.80px;top:757.80px;transform:translateY(-50%) scaleX(0.9);">OGP 10</div>
<div class="d lb bl" style="left:111.50px;top:752.00px;transform:translate(-50%,-50%) scaleX(0.92);">FOD Nm<sup>3</sup>/h</div>
<div class="d" style="left:205.90px;top:751.30px;transform:translate(-50%,-50%) scaleX(0.93);">9.7</div>
<div class="d bl" style="left:300.48px;top:751.30px;transform:translate(-50%,-50%) scaleX(0.93);">9.0</div>
<div class="d" style="left:395.06px;top:751.30px;transform:translate(-50%,-50%) scaleX(0.93);">8.3</div>
<div class="d lb bl" style="left:111.50px;top:764.40px;transform:translate(-50%,-50%) scaleX(0.92);">FOD scfm</div>
<div class="d" style="left:205.90px;top:763.70px;transform:translate(-50%,-50%) scaleX(0.93);">5.7</div>
<div class="d bl" style="left:300.48px;top:763.70px;transform:translate(-50%,-50%) scaleX(0.93);">5.3</div>
<div class="d" style="left:395.06px;top:763.70px;transform:translate(-50%,-50%) scaleX(0.93);">4.9</div>
<div class="d dm bl" style="left:489.94px;top:757.50px;transform:translate(-50%,-50%);">900 x 1200x 2100</div>
<div class="d dm" style="left:584.52px;top:757.50px;transform:translate(-50%,-50%);">35.4 x47.2x 82.7</div>
<div class="d dm bl" style="left:679.10px;top:757.50px;transform:translate(-50%,-50%);">950</div>
<div class="d dm" style="left:774.34px;top:757.50px;transform:translate(-50%,-50%);">2094</div>
<div class="ty" style="left:11.80px;top:782.60px;transform:translateY(-50%) scaleX(0.9);">OGP 14</div>
<div class="d lb bl" style="left:111.50px;top:776.80px;transform:translate(-50%,-50%) scaleX(0.92);">FOD Nm<sup>3</sup>/h</div>
<div class="d" style="left:205.90px;top:776.10px;transform:translate(-50%,-50%) scaleX(0.93);">14.4</div>
<div class="d bl" style="left:300.48px;top:776.10px;transform:translate(-50%,-50%) scaleX(0.93);">13.3</div>
<div class="d" style="left:395.06px;top:776.10px;transform:translate(-50%,-50%) scaleX(0.93);">12.2</div>
<div class="d lb bl" style="left:111.50px;top:789.20px;transform:translate(-50%,-50%) scaleX(0.92);">FOD scfm</div>
<div class="d" style="left:205.90px;top:788.50px;transform:translate(-50%,-50%) scaleX(0.93);">8.5</div>
<div class="d bl" style="left:300.48px;top:788.50px;transform:translate(-50%,-50%) scaleX(0.93);">7.8</div>
<div class="d" style="left:395.06px;top:788.50px;transform:translate(-50%,-50%) scaleX(0.93);">7.2</div>
<div class="d dm bl" style="left:489.94px;top:782.30px;transform:translate(-50%,-50%);">900 x 1200x 2100</div>
<div class="d dm" style="left:584.52px;top:782.30px;transform:translate(-50%,-50%);">35.4 x47.2x 82.7</div>
<div class="d dm bl" style="left:679.10px;top:782.30px;transform:translate(-50%,-50%);">950</div>
<div class="d dm" style="left:774.34px;top:782.30px;transform:translate(-50%,-50%);">2094</div>
<div class="ty" style="left:11.80px;top:807.40px;transform:translateY(-50%) scaleX(0.9);">OGP 18</div>
<div class="d lb bl" style="left:111.50px;top:801.60px;transform:translate(-50%,-50%) scaleX(0.92);">FOD Nm<sup>3</sup>/h</div>
<div class="d" style="left:205.90px;top:800.90px;transform:translate(-50%,-50%) scaleX(0.93);">15.5</div>
<div class="d bl" style="left:300.48px;top:800.90px;transform:translate(-50%,-50%) scaleX(0.93);">18.4</div>
<div class="d" style="left:395.06px;top:800.90px;transform:translate(-50%,-50%) scaleX(0.93);">18.4</div>
<div class="d lb bl" style="left:111.50px;top:814.00px;transform:translate(-50%,-50%) scaleX(0.92);">FOD scfm</div>
<div class="d" style="left:205.90px;top:813.30px;transform:translate(-50%,-50%) scaleX(0.93);">9.1</div>
<div class="d bl" style="left:300.48px;top:813.30px;transform:translate(-50%,-50%) scaleX(0.93);">10.8</div>
<div class="d" style="left:395.06px;top:813.30px;transform:translate(-50%,-50%) scaleX(0.93);">10.8</div>
<div class="d dm bl" style="left:489.94px;top:807.10px;transform:translate(-50%,-50%);">900 x 1300x 2400</div>
<div class="d dm" style="left:584.52px;top:807.10px;transform:translate(-50%,-50%);">35.4 x51.1x 94.5</div>
<div class="d dm bl" style="left:679.10px;top:807.10px;transform:translate(-50%,-50%);">1150</div>
<div class="d dm" style="left:774.34px;top:807.10px;transform:translate(-50%,-50%);">2535</div>
<div class="ty" style="left:11.80px;top:832.20px;transform:translateY(-50%) scaleX(0.9);">OGP 20</div>
<div class="d lb bl" style="left:111.50px;top:826.40px;transform:translate(-50%,-50%) scaleX(0.92);">FOD Nm<sup>3</sup>/h</div>
<div class="d" style="left:205.90px;top:825.70px;transform:translate(-50%,-50%) scaleX(0.93);">20.5</div>
<div class="d bl" style="left:300.48px;top:825.70px;transform:translate(-50%,-50%) scaleX(0.93);">19.4</div>
<div class="d" style="left:395.06px;top:825.70px;transform:translate(-50%,-50%) scaleX(0.93);">18.4</div>
<div class="d lb bl" style="left:111.50px;top:838.80px;transform:translate(-50%,-50%) scaleX(0.92);">FOD scfm</div>
<div class="d" style="left:205.90px;top:838.10px;transform:translate(-50%,-50%) scaleX(0.93);">12.1</div>
<div class="d bl" style="left:300.48px;top:838.10px;transform:translate(-50%,-50%) scaleX(0.93);">11.4</div>
<div class="d" style="left:395.06px;top:838.10px;transform:translate(-50%,-50%) scaleX(0.93);">10.8</div>
<div class="d dm bl" style="left:489.94px;top:831.90px;transform:translate(-50%,-50%);">1000 x 1300x 2400</div>
<div class="d dm" style="left:584.52px;top:831.90px;transform:translate(-50%,-50%);">39.4 x51.1x 94.5</div>
<div class="d dm bl" style="left:679.10px;top:831.90px;transform:translate(-50%,-50%);">1150</div>
<div class="d dm" style="left:774.34px;top:831.90px;transform:translate(-50%,-50%);">2535</div>
<div class="ty" style="left:11.80px;top:857.00px;transform:translateY(-50%) scaleX(0.9);">OGP 23</div>
<div class="d lb bl" style="left:111.50px;top:851.20px;transform:translate(-50%,-50%) scaleX(0.92);">FOD Nm<sup>3</sup>/h</div>
<div class="d" style="left:205.90px;top:850.50px;transform:translate(-50%,-50%) scaleX(0.93);">23.4</div>
<div class="d bl" style="left:300.48px;top:850.50px;transform:translate(-50%,-50%) scaleX(0.93);">21.2</div>
<div class="d" style="left:395.06px;top:850.50px;transform:translate(-50%,-50%) scaleX(0.93);">20.5</div>
<div class="d lb bl" style="left:111.50px;top:863.60px;transform:translate(-50%,-50%) scaleX(0.92);">FOD scfm</div>
<div class="d" style="left:205.90px;top:862.90px;transform:translate(-50%,-50%) scaleX(0.93);">13.8</div>
<div class="d bl" style="left:300.48px;top:862.90px;transform:translate(-50%,-50%) scaleX(0.93);">12.5</div>
<div class="d" style="left:395.06px;top:862.90px;transform:translate(-50%,-50%) scaleX(0.93);">12.1</div>
<div class="d dm bl" style="left:489.94px;top:856.70px;transform:translate(-50%,-50%);">1000 x 1300x 3200</div>
<div class="d dm" style="left:584.52px;top:856.70px;transform:translate(-50%,-50%);">39.4 x51.1x 126.0</div>
<div class="d dm bl" style="left:679.10px;top:856.70px;transform:translate(-50%,-50%);">1350</div>
<div class="d dm" style="left:774.34px;top:856.70px;transform:translate(-50%,-50%);">2976</div>
<div class="ty" style="left:11.80px;top:881.80px;transform:translateY(-50%) scaleX(0.9);">OGP 29</div>
<div class="d lb bl" style="left:111.50px;top:876.00px;transform:translate(-50%,-50%) scaleX(0.92);">FOD Nm<sup>3</sup>/h</div>
<div class="d" style="left:205.90px;top:875.30px;transform:translate(-50%,-50%) scaleX(0.93);">29.2</div>
<div class="d bl" style="left:300.48px;top:875.30px;transform:translate(-50%,-50%) scaleX(0.93);">27.7</div>
<div class="d" style="left:395.06px;top:875.30px;transform:translate(-50%,-50%) scaleX(0.93);">26.3</div>
<div class="d lb bl" style="left:111.50px;top:888.40px;transform:translate(-50%,-50%) scaleX(0.92);">FOD scfm</div>
<div class="d" style="left:205.90px;top:887.70px;transform:translate(-50%,-50%) scaleX(0.93);">17.2</div>
<div class="d bl" style="left:300.48px;top:887.70px;transform:translate(-50%,-50%) scaleX(0.93);">16.3</div>
<div class="d" style="left:395.06px;top:887.70px;transform:translate(-50%,-50%) scaleX(0.93);">15.5</div>
<div class="d dm bl" style="left:489.94px;top:881.50px;transform:translate(-50%,-50%);">1000 x 2000x 2500</div>
<div class="d dm" style="left:584.52px;top:881.50px;transform:translate(-50%,-50%);">39.4 x78.7x 98.4</div>
<div class="d dm bl" style="left:679.10px;top:881.50px;transform:translate(-50%,-50%);">1850</div>
<div class="d dm" style="left:774.34px;top:881.50px;transform:translate(-50%,-50%);">4079</div>
<div class="ty" style="left:11.80px;top:906.60px;transform:translateY(-50%) scaleX(0.9);">OGP 35</div>
<div class="d lb bl" style="left:111.50px;top:900.80px;transform:translate(-50%,-50%) scaleX(0.92);">FOD Nm<sup>3</sup>/h</div>
<div class="d" style="left:205.90px;top:900.10px;transform:translate(-50%,-50%) scaleX(0.93);">35.3</div>
<div class="d bl" style="left:300.48px;top:900.10px;transform:translate(-50%,-50%) scaleX(0.93);">33.1</div>
<div class="d" style="left:395.06px;top:900.10px;transform:translate(-50%,-50%) scaleX(0.93);">31.7</div>
<div class="d lb bl" style="left:111.50px;top:913.20px;transform:translate(-50%,-50%) scaleX(0.92);">FOD scfm</div>
<div class="d" style="left:205.90px;top:912.50px;transform:translate(-50%,-50%) scaleX(0.93);">20.8</div>
<div class="d bl" style="left:300.48px;top:912.50px;transform:translate(-50%,-50%) scaleX(0.93);">19.5</div>
<div class="d" style="left:395.06px;top:912.50px;transform:translate(-50%,-50%) scaleX(0.93);">18.6</div>
<div class="d dm bl" style="left:489.94px;top:906.30px;transform:translate(-50%,-50%);">1000 x 2000x 2500</div>
<div class="d dm" style="left:584.52px;top:906.30px;transform:translate(-50%,-50%);">39.4 x78.7x 98.4</div>
<div class="d dm bl" style="left:679.10px;top:906.30px;transform:translate(-50%,-50%);">2150</div>
<div class="d dm" style="left:774.34px;top:906.30px;transform:translate(-50%,-50%);">4740</div>
<div class="ty" style="left:11.80px;top:931.40px;transform:translateY(-50%) scaleX(0.9);">OGP 45</div>
<div class="d lb bl" style="left:111.50px;top:925.60px;transform:translate(-50%,-50%) scaleX(0.92);">FOD Nm<sup>3</sup>/h</div>
<div class="d" style="left:205.90px;top:924.90px;transform:translate(-50%,-50%) scaleX(0.93);">45.4</div>
<div class="d bl" style="left:300.48px;top:924.90px;transform:translate(-50%,-50%) scaleX(0.93);">42.8</div>
<div class="d" style="left:395.06px;top:924.90px;transform:translate(-50%,-50%) scaleX(0.93);">39.2</div>
<div class="d lb bl" style="left:111.50px;top:938.00px;transform:translate(-50%,-50%) scaleX(0.92);">FOD scfm</div>
<div class="d" style="left:205.90px;top:937.30px;transform:translate(-50%,-50%) scaleX(0.93);">26.7</div>
<div class="d bl" style="left:300.48px;top:937.30px;transform:translate(-50%,-50%) scaleX(0.93);">25.2</div>
<div class="d" style="left:395.06px;top:937.30px;transform:translate(-50%,-50%) scaleX(0.93);">23.1</div>
<div class="d dm bl" style="left:489.94px;top:931.10px;transform:translate(-50%,-50%);">1000 x 2000x 3400</div>
<div class="d dm" style="left:584.52px;top:931.10px;transform:translate(-50%,-50%);">39.4 x78.7x 134.0</div>
<div class="d dm bl" style="left:679.10px;top:931.10px;transform:translate(-50%,-50%);">3500</div>
<div class="d dm" style="left:774.34px;top:931.10px;transform:translate(-50%,-50%);">7716</div>
<div class="ty" style="left:11.80px;top:956.20px;transform:translateY(-50%) scaleX(0.9);">OGP 55</div>
<div class="d lb bl" style="left:111.50px;top:950.40px;transform:translate(-50%,-50%) scaleX(0.92);">FOD Nm<sup>3</sup>/h</div>
<div class="d" style="left:205.90px;top:949.70px;transform:translate(-50%,-50%) scaleX(0.93);">55.8</div>
<div class="d bl" style="left:300.48px;top:949.70px;transform:translate(-50%,-50%) scaleX(0.93);">51.8</div>
<div class="d" style="left:395.06px;top:949.70px;transform:translate(-50%,-50%) scaleX(0.93);">49.0</div>
<div class="d lb bl" style="left:111.50px;top:962.80px;transform:translate(-50%,-50%) scaleX(0.92);">FOD scfm</div>
<div class="d" style="left:205.90px;top:962.10px;transform:translate(-50%,-50%) scaleX(0.93);">32.8</div>
<div class="d bl" style="left:300.48px;top:962.10px;transform:translate(-50%,-50%) scaleX(0.93);">30.5</div>
<div class="d" style="left:395.06px;top:962.10px;transform:translate(-50%,-50%) scaleX(0.93);">28.8</div>
<div class="d dm bl" style="left:489.94px;top:955.90px;transform:translate(-50%,-50%);">1000 x 2000x 3400</div>
<div class="d dm" style="left:584.52px;top:955.90px;transform:translate(-50%,-50%);">39.4 x78.7x 134.0</div>
<div class="d dm bl" style="left:679.10px;top:955.90px;transform:translate(-50%,-50%);">3500</div>
<div class="d dm" style="left:774.34px;top:955.90px;transform:translate(-50%,-50%);">7716</div>
<div class="ty" style="left:11.80px;top:981.00px;transform:translateY(-50%) scaleX(0.9);">OGP 65</div>
<div class="d lb bl" style="left:111.50px;top:975.20px;transform:translate(-50%,-50%) scaleX(0.92);">FOD Nm<sup>3</sup>/h</div>
<div class="d" style="left:205.90px;top:974.50px;transform:translate(-50%,-50%) scaleX(0.93);">66.2</div>
<div class="d bl" style="left:300.48px;top:974.50px;transform:translate(-50%,-50%) scaleX(0.93);">64.1</div>
<div class="d" style="left:395.06px;top:974.50px;transform:translate(-50%,-50%) scaleX(0.93);">56.9</div>
<div class="d lb bl" style="left:111.50px;top:987.60px;transform:translate(-50%,-50%) scaleX(0.92);">FOD scfm</div>
<div class="d" style="left:205.90px;top:986.90px;transform:translate(-50%,-50%) scaleX(0.93);">39.0</div>
<div class="d bl" style="left:300.48px;top:986.90px;transform:translate(-50%,-50%) scaleX(0.93);">37.7</div>
<div class="d" style="left:395.06px;top:986.90px;transform:translate(-50%,-50%) scaleX(0.93);">33.5</div>
<div class="d dm bl" style="left:489.94px;top:980.70px;transform:translate(-50%,-50%);">1000 x 2000x 3400</div>
<div class="d dm" style="left:584.52px;top:980.70px;transform:translate(-50%,-50%);">39.4 x78.7x 134.0</div>
<div class="d dm bl" style="left:679.10px;top:980.70px;transform:translate(-50%,-50%);">3500</div>
<div class="d dm" style="left:774.34px;top:980.70px;transform:translate(-50%,-50%);">7716</div>
<div class="ty" style="left:11.80px;top:1005.80px;transform:translateY(-50%) scaleX(0.9);">OGP 84</div>
<div class="d lb bl" style="left:111.50px;top:1000.00px;transform:translate(-50%,-50%) scaleX(0.92);">FOD Nm<sup>3</sup>/h</div>
<div class="d" style="left:205.90px;top:999.30px;transform:translate(-50%,-50%) scaleX(0.93);">85.3</div>
<div class="d bl" style="left:300.48px;top:999.30px;transform:translate(-50%,-50%) scaleX(0.93);">79.2</div>
<div class="d" style="left:395.06px;top:999.30px;transform:translate(-50%,-50%) scaleX(0.93);">74.2</div>
<div class="d lb bl" style="left:111.50px;top:1012.40px;transform:translate(-50%,-50%) scaleX(0.92);">FOD scfm</div>
<div class="d" style="left:205.90px;top:1011.70px;transform:translate(-50%,-50%) scaleX(0.93);">50.2</div>
<div class="d bl" style="left:300.48px;top:1011.70px;transform:translate(-50%,-50%) scaleX(0.93);">46.6</div>
<div class="d" style="left:395.06px;top:1011.70px;transform:translate(-50%,-50%) scaleX(0.93);">43.6</div>
<div class="d dm bl" style="left:489.94px;top:1005.50px;transform:translate(-50%,-50%);">2400 x 2200x 3200</div>
<div class="d dm" style="left:584.52px;top:1005.50px;transform:translate(-50%,-50%);">94.5 x86.6x 126.0</div>
<div class="d dm bl" style="left:679.10px;top:1005.50px;transform:translate(-50%,-50%);">4200</div>
<div class="d dm" style="left:774.34px;top:1005.50px;transform:translate(-50%,-50%);">9259</div>
<div class="ty" style="left:11.80px;top:1030.60px;transform:translateY(-50%) scaleX(0.9);">OGP 105</div>
<div class="d lb bl" style="left:111.50px;top:1024.80px;transform:translate(-50%,-50%) scaleX(0.92);">FOD Nm<sup>3</sup>/h</div>
<div class="d" style="left:205.90px;top:1024.10px;transform:translate(-50%,-50%) scaleX(0.93);">106.9</div>
<div class="d bl" style="left:300.48px;top:1024.10px;transform:translate(-50%,-50%) scaleX(0.93);">101.9</div>
<div class="d" style="left:395.06px;top:1024.10px;transform:translate(-50%,-50%) scaleX(0.93);">93.6</div>
<div class="d lb bl" style="left:111.50px;top:1037.20px;transform:translate(-50%,-50%) scaleX(0.92);">FOD scfm</div>
<div class="d" style="left:205.90px;top:1036.50px;transform:translate(-50%,-50%) scaleX(0.93);">62.9</div>
<div class="d bl" style="left:300.48px;top:1036.50px;transform:translate(-50%,-50%) scaleX(0.93);">59.9</div>
<div class="d" style="left:395.06px;top:1036.50px;transform:translate(-50%,-50%) scaleX(0.93);">55.1</div>
<div class="d dm bl" style="left:489.94px;top:1030.30px;transform:translate(-50%,-50%);">2400 x 2400x 3300</div>
<div class="d dm" style="left:584.52px;top:1030.30px;transform:translate(-50%,-50%);">94.5 x94.5x 130.0</div>
<div class="d dm bl" style="left:679.10px;top:1030.30px;transform:translate(-50%,-50%);">4900</div>
<div class="d dm" style="left:774.34px;top:1030.30px;transform:translate(-50%,-50%);">10803</div>
<div class="ty" style="left:11.80px;top:1055.40px;transform:translateY(-50%) scaleX(0.9);">OGP 160</div>
<div class="d lb bl" style="left:111.50px;top:1049.60px;transform:translate(-50%,-50%) scaleX(0.92);">FOD Nm<sup>3</sup>/h</div>
<div class="d" style="left:205.90px;top:1048.90px;transform:translate(-50%,-50%) scaleX(0.93);">157.7</div>
<div class="d bl" style="left:300.48px;top:1048.90px;transform:translate(-50%,-50%) scaleX(0.93);">154.8</div>
<div class="d" style="left:395.06px;top:1048.90px;transform:translate(-50%,-50%) scaleX(0.93);">148.6</div>
<div class="d lb bl" style="left:111.50px;top:1062.00px;transform:translate(-50%,-50%) scaleX(0.92);">FOD scfm</div>
<div class="d" style="left:205.90px;top:1061.30px;transform:translate(-50%,-50%) scaleX(0.93);">92.8</div>
<div class="d bl" style="left:300.48px;top:1061.30px;transform:translate(-50%,-50%) scaleX(0.93);">91.1</div>
<div class="d" style="left:395.06px;top:1061.30px;transform:translate(-50%,-50%) scaleX(0.93);">84.5</div>
<div class="d dm bl" style="left:489.94px;top:1055.10px;transform:translate(-50%,-50%);">4000 x 4000x 3200</div>
<div class="d dm" style="left:584.52px;top:1055.10px;transform:translate(-50%,-50%);">157.5 x157.5x 126.0</div>
<div class="d dm bl" style="left:679.10px;top:1055.10px;transform:translate(-50%,-50%);">8000</div>
<div class="d dm" style="left:774.34px;top:1055.10px;transform:translate(-50%,-50%);">17637</div>
<div class="ty" style="left:11.80px;top:1080.20px;transform:translateY(-50%) scaleX(0.9);">OGP 200</div>
<div class="d lb bl" style="left:111.50px;top:1074.40px;transform:translate(-50%,-50%) scaleX(0.92);">FOD Nm<sup>3</sup>/h</div>
<div class="d" style="left:205.90px;top:1073.70px;transform:translate(-50%,-50%) scaleX(0.93);">203.8</div>
<div class="d bl" style="left:300.48px;top:1073.70px;transform:translate(-50%,-50%) scaleX(0.93);">188.3</div>
<div class="d" style="left:395.06px;top:1073.70px;transform:translate(-50%,-50%) scaleX(0.93);">175.0</div>
<div class="d lb bl" style="left:111.50px;top:1086.80px;transform:translate(-50%,-50%) scaleX(0.92);">FOD scfm</div>
<div class="d" style="left:205.90px;top:1086.10px;transform:translate(-50%,-50%) scaleX(0.93);">119.9</div>
<div class="d bl" style="left:300.48px;top:1086.10px;transform:translate(-50%,-50%) scaleX(0.93);">110.8</div>
<div class="d" style="left:395.06px;top:1086.10px;transform:translate(-50%,-50%) scaleX(0.93);">102.9</div>
<div class="d dm bl" style="left:489.94px;top:1079.90px;transform:translate(-50%,-50%);">4000 x 4000x 3300</div>
<div class="d dm" style="left:584.52px;top:1079.90px;transform:translate(-50%,-50%);">157.5 x157.5x 130.0</div>
<div class="d dm bl" style="left:679.10px;top:1079.90px;transform:translate(-50%,-50%);">9400</div>
<div class="d dm" style="left:774.34px;top:1079.90px;transform:translate(-50%,-50%);">20723</div>
<div class="note nb" style="left:10px;top:1105.5px;letter-spacing:0.37px">FOD: Free Oxygen Delivery</div>
<div class="note nb" style="left:10px;top:1116.7px;letter-spacing:0.345px">Reference conditions</div>
<div class="note" style="left:10px;top:1127.7px;letter-spacing:0.53px">Compressed air effective inlet pressure: 7.5 bar(g)/108 psi(g).</div>
<div class="note" style="left:10px;top:1139.4px;letter-spacing:0.557px">Oxygen outlet pressure: 5 bar(g)/72 psi(g).</div>
<div class="note" style="left:10px;top:1149.8px;letter-spacing:0.67px">Ambient air temperature: 20°C/68°F.</div>
<div class="note" style="left:10px;top:1163.0px;letter-spacing:0.53px">Pressure dewpoint inlet air: 3°C/37°F.</div>
<div class="note" style="left:10px;top:1175.0px;letter-spacing:0.56px">Pressure dewpoint oxygen: -50°C/-58°F.</div>
<div class="note" style="left:10px;top:1185.7px;letter-spacing:0.6px">Unit inlet air quality 1.4.1 according to ISO 8573-1:2010.</div>
<div class="note" style="left:10px;top:1196.8px;letter-spacing:0.72px">Minimum refrigerant dryer required to precondition inlet air.</div>
<div class="note" style="left:10px;top:1208.4px;letter-spacing:0.51px">Typical oxygen quality 1.2.1 according to ISO 8573-1:2010.</div>
<div class="note nb" style="left:352.5px;top:1105.8px;letter-spacing:0.45px">Operating limits</div>
<div class="note" style="left:352.5px;top:1116.6px;letter-spacing:0.74px">Minimum ambient temperature: 5°C/41°F.</div>
<div class="note" style="left:352.5px;top:1127.4px;letter-spacing:0.75px">Maximum ambient temperature: 45°C/113°F.</div>
<div class="note" style="left:352.5px;top:1138.6px;letter-spacing:0.55px">Maximum compressed inlet air pressure 10 bar(g)/145 psi(g).</div>
</body></html>
